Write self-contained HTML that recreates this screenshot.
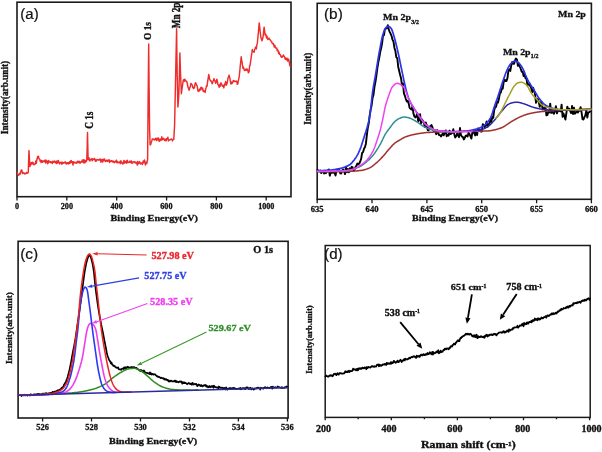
<!DOCTYPE html>
<html><head><meta charset="utf-8"><title>XPS and Raman spectra</title>
<style>html,body{margin:0;padding:0;background:#fff;}body{width:602px;height:452px;overflow:hidden;}svg{display:block;filter:blur(0.3px);}
</style></head>
<body><svg width="602" height="452" viewBox="0 0 602 452"><rect x="17" y="2.2" width="274" height="194.5" fill="none" stroke="#1a1a1a" stroke-width="1.6"/><path d="M17,196.7 V200.5 M66.8,196.7 V200.5 M116.7,196.7 V200.5 M166.6,196.7 V200.5 M216.4,196.7 V200.5 M266.2,196.7 V200.5" stroke="#1a1a1a" stroke-width="1.3" fill="none"/><path d="M17.3,172.6 L17.8,173.9 L18.3,175.2 L18.8,175.2 L19.3,174.3 L19.8,173.3 L20.3,173.9 L20.7,172.1 L21.2,170.2 L21.6,169.9 L22.1,171.1 L22.5,173.5 L23,173.2 L23.5,172.8 L24,172.7 L24.5,173.9 L25,173.5 L25.5,173.8 L26,173.5 L26.5,172.3 L27,173.2 L27.4,172.7 L27.9,173.1 L28.3,171.9 L28.6,161.2 L29,150.6 L29.4,158.6 L29.9,166.6 L30.3,164.5 L30.8,164.8 L31.2,162.6 L31.6,163.9 L32,162.7 L32.5,162.2 L33,164 L33.4,163 L33.8,164.8 L34.3,164.6 L34.8,164.4 L35.3,163.8 L35.8,161 L36.3,163.3 L36.7,160.5 L37.2,158.8 L37.6,156.6 L38,157.4 L38.5,156.3 L38.9,158.6 L39.3,159 L39.8,159.4 L40.2,161.3 L40.6,160.5 L41.1,162.5 L41.5,160.5 L42,161.4 L42.4,162.3 L42.9,160.8 L43.3,161.3 L43.8,161.6 L44.2,161.6 L44.7,160.3 L45.1,161.6 L45.6,163 L46,160 L46.5,162.5 L46.9,161.8 L47.4,161 L47.8,163.8 L48.3,162.5 L48.7,160.5 L49.2,161.9 L49.6,161.8 L50.1,162.4 L50.5,161.7 L51,162.6 L51.4,161.9 L51.9,162.7 L52.3,163.5 L52.8,161.3 L53.2,162.3 L53.7,161.6 L54.2,162.3 L54.6,160.9 L55.1,161.6 L55.5,162 L56,163.2 L56.4,163.5 L56.9,161 L57.4,161.6 L57.8,163.1 L58.3,160.4 L58.7,162 L59.2,162.4 L59.6,163.9 L60.1,163.3 L60.6,162.3 L61,162.3 L61.5,162.4 L61.9,164.3 L62.4,162.3 L62.8,162.5 L63.3,163.2 L63.7,162.7 L64.2,162.9 L64.6,162.7 L65.1,161.7 L65.5,162.9 L66,162.4 L66.4,164.1 L66.8,163.5 L67.3,162.8 L67.7,163.5 L68.2,162.4 L68.6,163.9 L69.1,162.8 L69.5,163.4 L69.9,161.4 L70.4,163.1 L70.8,160.9 L71.3,160.6 L71.7,162.4 L72.2,161.7 L72.6,162.8 L73,165 L73.5,161.8 L73.9,162 L74.4,162.8 L74.8,162.6 L75.2,163.1 L75.7,162.4 L76.1,162.3 L76.6,163.2 L77,163 L77.5,161.3 L77.9,162.3 L78.3,162.4 L78.8,161.2 L79.2,162.6 L79.7,161.4 L80.1,163.3 L80.5,162.4 L81,162.3 L81.4,161.5 L81.9,162 L82.3,160 L82.8,160.9 L83.2,162.4 L83.6,159.8 L84.1,162.9 L84.5,160.1 L85,162.7 L85.4,161.9 L85.9,160.4 L86.3,161.5 L86.8,160 L87.2,146.2 L87.5,132.5 L88.1,159.3 L88.6,159.5 L89,157.8 L89.5,160.7 L89.9,161 L90.4,159.4 L90.9,159.3 L91.3,159.4 L91.8,158.6 L92.2,160.8 L92.7,159.1 L93.2,159.7 L93.6,158.9 L94.1,159.2 L94.5,158.5 L95,159.9 L95.5,161.3 L95.9,159.8 L96.4,161 L96.8,160.1 L97.3,159.4 L97.7,159.8 L98.2,159.6 L98.6,160.2 L99.1,159.9 L99.5,160 L100,158.9 L100.5,159.5 L100.9,162.2 L101.4,159.8 L101.8,159.4 L102.3,160.9 L102.7,162.1 L103.2,159.1 L103.6,160.5 L104.1,160.1 L104.5,158.9 L105,160.8 L105.5,161.6 L105.9,160.8 L106.4,161 L106.8,160.1 L107.3,161.4 L107.7,160.4 L108.2,160.9 L108.6,159.9 L109.1,159.8 L109.5,162.5 L110,160.6 L110.5,161.5 L110.9,161.2 L111.4,160.8 L111.8,160.7 L112.3,162 L112.7,161 L113.2,161.2 L113.6,161.4 L114.1,162.7 L114.5,162.2 L115,161.5 L115.5,161.9 L115.9,161 L116.4,160.2 L116.8,162.6 L117.3,162.7 L117.7,161.6 L118.2,162.3 L118.6,162.6 L119.1,162.7 L119.5,162.8 L120,161.4 L120.5,163.5 L120.9,160.7 L121.4,162.9 L121.8,162.6 L122.3,163 L122.7,164.1 L123.2,163.7 L123.6,161 L124.1,160.5 L124.5,163.1 L125,162.3 L125.5,161.3 L125.9,162.3 L126.4,163.2 L126.8,160.7 L127.3,160.2 L127.7,162.7 L128.2,162.5 L128.6,162.2 L129.1,162.5 L129.5,161.6 L130,161 L130.5,162.4 L130.9,161.6 L131.4,160.9 L131.8,163.2 L132.3,162.6 L132.7,163.1 L133.2,161.7 L133.6,162 L134.1,161.7 L134.5,161.8 L135,162.8 L135.5,163 L135.9,162 L136.4,163.3 L136.8,163.3 L137.3,165.1 L137.7,161.5 L138.2,163.9 L138.6,163 L139.1,163.1 L139.5,161.6 L140,162.7 L140.4,163.9 L140.9,163.1 L141.4,163.3 L141.8,163 L142.3,164.5 L142.7,163.3 L143.2,161 L143.6,162.7 L144.1,161.3 L144.5,160 L145,162.9 L145.4,164.9 L145.9,163.6 L146.3,162.3 L146.8,163.6 L147.2,160.8 L147.6,160 L148.1,102 L148.7,44 L149.1,87 L149.6,130 L150.1,145 L150.6,144.9 L151.2,142.5 L151.8,140.9 L152.3,139 L152.8,139.1 L153.2,139 L153.7,139.1 L154.1,140 L154.6,139.8 L155,139.4 L155.5,138.2 L155.9,139.8 L156.4,138.6 L156.8,140.5 L157.3,138.1 L157.7,139.3 L158.2,139.5 L158.6,138.1 L159.1,141.3 L159.5,141.1 L160,139.6 L160.4,139.1 L160.9,140.4 L161.3,139.9 L161.8,136.8 L162.2,139.7 L162.6,139.4 L163.1,139.5 L163.5,138.3 L163.9,139.1 L164.4,139.2 L164.8,140.6 L165.2,139.7 L165.7,139.3 L166.1,140.9 L166.6,138.6 L167,139.2 L167.5,138.8 L167.9,137.3 L168.4,140.9 L168.8,140.2 L169.3,140.2 L169.7,139.9 L170.2,139.4 L170.6,139.5 L171.1,139 L171.5,139.1 L172,139.3 L172.4,140.9 L172.9,139.9 L173.3,139.2 L173.8,139.3 L174.2,132.2 L174.6,125 L175.1,101 L175.6,76.9 L176.1,52.8 L176.6,28.8 L176.9,54.4 L177.3,80 L177.9,107 L178.4,101 L178.8,95 L179.4,74 L179.9,53 L180.2,64 L180.6,75 L181,84.3 L181.4,93.7 L181.8,90.5 L182.2,87.3 L182.7,84.1 L183.1,80.9 L183.6,79.9 L184,79.4 L184.4,81.3 L184.9,79.2 L185.4,80.6 L185.8,80.9 L186.3,81.3 L186.7,81.3 L187.2,83.3 L187.6,85 L188.1,87.7 L188.6,88.1 L189,90.2 L189.5,88.7 L189.9,87.4 L190.4,86.5 L190.8,83.4 L191.3,83.8 L191.8,84.5 L192.2,84.8 L192.7,87.5 L193.1,86.8 L193.6,88.5 L194,87.9 L194.4,87.8 L194.9,84.7 L195.3,83.2 L195.7,82.7 L196.1,84.1 L196.6,85.2 L197,85.4 L197.5,88.2 L197.9,91 L198.4,89.9 L198.8,91.4 L199.3,90.6 L199.8,89.1 L200.2,90 L200.7,87.8 L201.2,87.3 L201.7,87.9 L202.1,89.7 L202.6,87.9 L203,90.5 L203.4,91.5 L203.8,90.7 L204.3,91.5 L204.7,91.4 L205.2,92.4 L205.6,89.1 L206.1,87.7 L206.5,85.8 L207,86.2 L207.4,83.3 L207.8,80.3 L208.3,77.4 L208.7,74.5 L209.1,76.1 L209.6,79.3 L210.1,80.3 L210.5,80.9 L210.9,80.6 L211.3,81.5 L211.8,82.5 L212.2,83.8 L212.6,82.8 L213.1,81 L213.6,80.1 L214,78.6 L214.4,80.1 L214.8,80.6 L215.3,82.1 L215.7,83.3 L216.1,82.2 L216.5,80.5 L216.9,79.2 L217.4,81.3 L217.8,84.4 L218.3,84.7 L218.7,85.7 L219.2,87.3 L219.7,84.8 L220.1,86.3 L220.6,83.2 L221,83 L221.5,83.8 L222,85.5 L222.4,86.2 L222.9,86.1 L223.3,85.3 L223.8,87.9 L224.2,85.9 L224.7,84 L225.2,83.8 L225.6,81.5 L226.1,85.3 L226.7,84.4 L227.2,82.8 L227.7,79.9 L228.1,77.6 L228.6,76.9 L229.1,75.1 L229.5,77.1 L229.9,78.2 L230.4,81.7 L230.8,83.8 L231.3,82 L231.7,83.8 L232.2,83.2 L232.6,82.6 L233.1,80.9 L233.6,80.5 L234.1,81.7 L234.5,81.1 L235,81 L235.5,81.5 L236,81.6 L236.4,81.1 L236.9,81.5 L237.3,84.3 L237.8,84 L238.2,81.3 L238.7,79.2 L239.1,77.6 L239.5,74 L239.9,69.7 L240.3,65.3 L240.8,61 L241.2,56.7 L241.6,59.6 L242.1,62.5 L242.5,65.3 L242.9,68.2 L243.4,67.1 L243.9,68.8 L244.4,70.4 L244.8,70.3 L245.2,70.3 L245.7,69.2 L246.1,70.4 L246.5,69 L246.9,69.9 L247.4,69.2 L247.8,70.2 L248.3,72.7 L248.7,72.6 L249.2,70.7 L249.6,65.8 L250.1,65.4 L250.5,62.2 L251,59 L251.4,55.9 L251.9,52.7 L252.3,49.5 L252.8,51.6 L253.2,51.6 L253.7,51.7 L254.1,52.3 L254.6,49.6 L255,48.8 L255.5,47.1 L255.9,47.4 L256.4,48.9 L256.8,44.8 L257.3,43.8 L257.6,40.2 L258,36.6 L258.4,32 L258.8,27.5 L259.2,22.9 L259.7,27 L260.1,31 L260.6,35.1 L261.1,38.7 L261.5,38.3 L262,40.9 L262.6,38.9 L263.1,36.6 L263.6,31.9 L264.1,27.2 L264.6,31.1 L265.2,35.1 L265.6,33.9 L266.1,35.9 L266.5,37.9 L267,36.1 L267.4,38 L267.9,39.5 L268.4,39.1 L268.9,38 L269.3,38.9 L269.8,39.4 L270.3,40.2 L270.7,40.9 L271.1,41.1 L271.6,41.5 L272,42.8 L272.4,43.8 L272.9,43.3 L273.4,43.6 L273.9,45.5 L274.3,47.1 L274.8,45.2 L275.3,47.4 L275.8,48 L276.3,47.9 L276.8,48.2 L277.2,50.7 L277.7,49.9 L278.2,51 L278.7,53.5 L279.1,52.1 L279.6,54.3 L280.1,54.6 L280.5,55 L281,56.7 L281.5,57.2 L282,56.3 L282.4,57 L282.9,56.2 L283.4,55 L283.9,56 L284.3,56.6 L284.8,57.5 L285.2,59.2 L285.7,57.9 L286.1,59.6 L286.6,59.8 L287.1,58.3 L287.6,61 L288,59.4 L288.5,58.9 L289,61 L289.4,62.6 L289.8,65.6 L290.2,66.1" fill="none" stroke="#ee2c2c" stroke-width="1.45" stroke-linejoin="round" stroke-linecap="round"/><rect x="317.2" y="3.3" width="274.2" height="196" fill="none" stroke="#1a1a1a" stroke-width="1.6"/><path d="M317.2,199.3 V203.3 M372,199.3 V203.3 M426.9,199.3 V203.3 M481.7,199.3 V203.3 M536.6,199.3 V203.3 M591.4,199.3 V203.3" stroke="#1a1a1a" stroke-width="1.3" fill="none"/><path d="M317.5,169.9 L318.4,170.7 L319.4,171.2 L320.3,170.6 L321.3,173.1 L322.2,171.1 L323.2,171.3 L324.1,173.5 L325.1,171.2 L326,173.2 L327,170.8 L327.9,170.4 L328.9,169.4 L329.8,175.7 L330.8,172 L331.7,172.9 L332.7,172.4 L333.6,172.7 L334.6,172.5 L335.5,175.6 L336.5,170.6 L337.4,169.7 L338.4,170.6 L339.3,170 L340.3,173.4 L341.2,173.5 L342.2,170.4 L343.1,169.6 L344.1,171.3 L345,174.1 L346,166.8 L346.9,172.2 L347.9,169.1 L348.8,172.3 L349.8,168.3 L350.7,169.2 L351.7,166.8 L352.6,167.4 L353.6,171 L354.5,169.6 L355.5,167 L356.4,165.8 L357.4,163.5 L358.3,164.4 L359.3,163.5 L360.2,161.5 L361.2,158.6 L362.1,152.9 L363.1,152.1 L364,148.7 L365,147.1 L365.9,143.7 L366.9,134.6 L367.8,127.9 L368.8,123.1 L369.7,115.4 L370.7,109.3 L371.6,105.5 L372.6,97.8 L373.5,94.7 L374.5,86.7 L375.4,82 L376.4,75.6 L377.3,68.6 L378.3,62.3 L379.2,58.1 L380.2,52 L381.1,48.5 L382.1,43.1 L383,35.6 L384,35.1 L384.9,29.2 L385.9,28.6 L386.8,28 L387.8,25.2 L388.7,29.4 L389.7,31.8 L390.6,33.7 L391.6,36.1 L392.5,39.7 L393.5,41.7 L394.4,47.7 L395.4,51.1 L396.3,57.2 L397.3,58.1 L398.2,66.7 L399.2,71 L400.1,74.7 L401.1,78.4 L402,85.5 L403,83.4 L403.9,93.1 L404.9,95.8 L405.8,98.8 L406.8,101.5 L407.7,100.7 L408.7,103.6 L409.6,107.8 L410.6,108.8 L411.5,109.6 L412.5,106.2 L413.4,113.3 L414.4,116.4 L415.3,117.4 L416.3,116.6 L417.2,113 L418.2,121.4 L419.1,119.7 L420.1,114.3 L421,123.6 L422,119.5 L422.9,121 L423.9,122.8 L424.8,127.1 L425.8,122.5 L426.7,125.2 L427.7,130.1 L428.6,130.5 L429.6,126.5 L430.5,126.9 L431.5,125 L432.4,127.2 L433.4,130.7 L434.3,131.3 L435.3,131.3 L436.2,134.2 L437.2,130.2 L438.1,132.6 L439.1,135.1 L440,135 L441,136.5 L441.9,135 L442.9,133.3 L443.8,135.3 L444.8,131.9 L445.7,130.4 L446.7,136.3 L447.6,134.7 L448.6,135.7 L449.5,130.6 L450.5,134.1 L451.4,133.5 L452.4,132.8 L453.3,129.2 L454.3,134.3 L455.2,137.5 L456.2,136.2 L457.1,133.6 L458.1,135.2 L459,137.2 L460,128 L460.9,134.9 L461.9,136.6 L462.8,136.9 L463.8,139.4 L464.7,137.9 L465.7,135.6 L466.6,135.5 L467.6,136.6 L468.5,133 L469.5,134 L470.4,136.2 L471.4,138.6 L472.3,132.7 L473.3,132.6 L474.2,132.8 L475.2,135.4 L476.1,131.5 L477.1,135.1 L478,128.4 L479,130 L479.9,129.5 L480.9,131.5 L481.8,131.5 L482.8,124.1 L483.7,124.9 L484.7,127.1 L485.6,125 L486.6,121.4 L487.5,126.9 L488.5,124.6 L489.4,123.4 L490.4,119.7 L491.3,121.9 L492.3,116.9 L493.2,117.9 L494.2,110.1 L495.1,107.2 L496.1,106.9 L497,101.8 L498,102.6 L498.9,98.8 L499.9,93.1 L500.8,92.6 L501.8,88.5 L502.7,88.7 L503.7,81.9 L504.6,79.6 L505.6,81.1 L506.5,81 L507.5,77.9 L508.4,70.9 L509.4,69.3 L510.3,70.9 L511.3,65.2 L512.2,61.9 L513.2,63.7 L514.1,63.8 L515.1,60.2 L516,58.5 L517,59.7 L517.9,65.9 L518.9,63.6 L519.8,66.5 L520.8,69 L521.7,71.8 L522.7,71.6 L523.6,76 L524.6,74.8 L525.5,78.2 L526.5,78.4 L527.4,85.5 L528.4,84.1 L529.3,83.9 L530.3,86.3 L531.2,88.1 L532.2,92 L533.1,87.8 L534.1,90.7 L535,94 L536,102.8 L536.9,100.3 L537.9,98.9 L538.8,102.2 L539.8,106.8 L540.7,102.2 L541.7,103.2 L542.6,109.4 L543.6,108 L544.5,109.6 L545.5,106.4 L546.4,115.3 L547.4,115.1 L548.3,111.6 L549.3,112.4 L550.2,103.6 L551.2,112.9 L552.1,110.4 L553.1,112.8 L554,113.8 L555,110.6 L555.9,106.2 L556.9,113.4 L557.8,109.8 L558.8,111.3 L559.7,110.4 L560.7,111.4 L561.6,104.7 L562.6,116.8 L563.5,113.5 L564.5,116.5 L565.4,119.5 L566.4,112.8 L567.3,106.6 L568.3,109.7 L569.2,108.7 L570.2,111.1 L571.1,113.1 L572.1,106 L573,114 L574,107.7 L574.9,113.8 L575.9,112.4 L576.8,111.7 L577.8,112.6 L578.7,111 L579.7,110.7 L580.6,107.1 L581.6,112.7 L582.5,119.1 L583.5,119.5 L584.4,117.2 L585.4,115.1 L586.3,110.4 L587.3,117.6 L588.2,112.4 L589.2,112.3 L590.1,111.6" fill="none" stroke="#000" stroke-width="1.9" stroke-linejoin="round" stroke-linecap="round"/><path d="M317.5,170.6 L318,170.6 L318.5,170.6 L319,170.6 L319.5,170.6 L320,170.6 L320.5,170.6 L321,170.6 L321.5,170.5 L322,170.5 L322.5,170.5 L323,170.5 L323.5,170.5 L324,170.4 L324.5,170.4 L325,170.4 L325.5,170.4 L326,170.3 L326.5,170.3 L327,170.3 L327.5,170.3 L328,170.2 L328.5,170.2 L329,170.2 L329.5,170.1 L330,170.1 L330.5,170.1 L331,170 L331.5,170 L332,169.9 L332.5,169.9 L333,169.8 L333.5,169.7 L334,169.7 L334.5,169.6 L335,169.5 L335.5,169.4 L336,169.3 L336.5,169.2 L337,169.2 L337.5,169.1 L338,168.9 L338.5,168.8 L339,168.7 L339.5,168.6 L340,168.5 L340.5,168.4 L341,168.3 L341.5,168.2 L342,168 L342.5,167.9 L343,167.7 L343.5,167.6 L344,167.4 L344.5,167.2 L345,167 L345.5,166.8 L346,166.6 L346.5,166.4 L347,166.2 L347.5,165.9 L348,165.7 L348.5,165.4 L349,165.1 L349.5,164.8 L350,164.5 L350.5,164.1 L351,163.6 L351.5,163.1 L352,162.6 L352.5,162 L353,161.4 L353.5,160.8 L354,160.2 L354.5,159.5 L355,158.8 L355.5,158.1 L356,157.4 L356.5,156.6 L357,155.7 L357.5,154.8 L358,153.8 L358.5,152.8 L359,151.7 L359.5,150.6 L360,149.4 L360.5,148.1 L361,146.8 L361.5,145.3 L362,143.8 L362.5,142.2 L363,140.6 L363.5,139 L364,137.4 L364.5,135.8 L365,134.2 L365.5,132.7 L366,131.2 L366.5,129.6 L367,127.9 L367.5,126.1 L368,124.2 L368.5,122.2 L369,119.9 L369.5,117.4 L370,114.6 L370.5,111 L371,106.5 L371.5,101.7 L372,96.9 L372.5,92.7 L373,89.3 L373.5,86.2 L374,83.4 L374.5,80.6 L375,77.9 L375.5,75 L376,72 L376.5,68.9 L377,65.7 L377.5,62.6 L378,59.5 L378.5,56.5 L379,53.7 L379.5,51 L380,48.3 L380.5,45.6 L381,43 L381.5,40.5 L382,38.1 L382.5,36 L383,34.2 L383.5,32.7 L384,31.4 L384.5,30.1 L385,29 L385.5,28.2 L386,27.6 L386.5,27.2 L387,26.9 L387.5,26.6 L388,26.4 L388.5,26.4 L389,26.5 L389.5,26.8 L390,27.2 L390.5,27.7 L391,28.2 L391.5,28.9 L392,30.1 L392.5,31.4 L393,33 L393.5,34.6 L394,36.3 L394.5,37.9 L395,39.7 L395.5,41.7 L396,43.7 L396.5,45.8 L397,47.9 L397.5,50.1 L398,52.3 L398.5,54.5 L399,56.8 L399.5,59.2 L400,61.6 L400.5,64.1 L401,66.5 L401.5,68.9 L402,71.3 L402.5,73.7 L403,76 L403.5,78.4 L404,80.7 L404.5,83 L405,85.3 L405.5,87.5 L406,89.5 L406.5,91.4 L407,93.2 L407.5,94.9 L408,96.5 L408.5,98 L409,99.3 L409.5,100.4 L410,101.5 L410.5,102.6 L411,103.5 L411.5,104.4 L412,105.3 L412.5,106.2 L413,107 L413.5,107.8 L414,108.5 L414.5,109.3 L415,110 L415.5,110.7 L416,111.4 L416.5,112.2 L417,112.9 L417.5,113.6 L418,114.3 L418.5,115.1 L419,115.8 L419.5,116.6 L420,117.3 L420.5,118 L421,118.7 L421.5,119.5 L422,120.1 L422.5,120.8 L423,121.5 L423.5,122.1 L424,122.7 L424.5,123.3 L425,123.8 L425.5,124.3 L426,124.7 L426.5,125.1 L427,125.5 L427.5,125.9 L428,126.2 L428.5,126.6 L429,126.9 L429.5,127.2 L430,127.6 L430.5,127.9 L431,128.2 L431.5,128.5 L432,128.8 L432.5,129 L433,129.3 L433.5,129.5 L434,129.7 L434.5,129.9 L435,130.1 L435.5,130.2 L436,130.4 L436.5,130.5 L437,130.6 L437.5,130.6 L438,130.7 L438.5,130.8 L439,130.8 L439.5,130.9 L440,130.9 L440.5,131 L441,131 L441.5,131.1 L442,131.1 L442.5,131.2 L443,131.2 L443.5,131.3 L444,131.3 L444.5,131.4 L445,131.4 L445.5,131.4 L446,131.5 L446.5,131.5 L447,131.5 L447.5,131.5 L448,131.6 L448.5,131.6 L449,131.6 L449.5,131.6 L450,131.7 L450.5,131.7 L451,131.7 L451.5,131.7 L452,131.7 L452.5,131.7 L453,131.7 L453.5,131.7 L454,131.7 L454.5,131.7 L455,131.7 L455.5,131.7 L456,131.7 L456.5,131.6 L457,131.6 L457.5,131.6 L458,131.6 L458.5,131.6 L459,131.5 L459.5,131.5 L460,131.5 L460.5,131.4 L461,131.4 L461.5,131.4 L462,131.3 L462.5,131.3 L463,131.3 L463.5,131.2 L464,131.2 L464.5,131.2 L465,131.1 L465.5,131.1 L466,131 L466.5,131 L467,130.9 L467.5,130.9 L468,130.8 L468.5,130.8 L469,130.7 L469.5,130.6 L470,130.5 L470.5,130.4 L471,130.4 L471.5,130.3 L472,130.2 L472.5,130 L473,129.9 L473.5,129.8 L474,129.7 L474.5,129.6 L475,129.4 L475.5,129.3 L476,129.2 L476.5,129 L477,128.9 L477.5,128.7 L478,128.6 L478.5,128.4 L479,128.2 L479.5,128 L480,127.8 L480.5,127.6 L481,127.3 L481.5,127.1 L482,126.8 L482.5,126.5 L483,126.2 L483.5,125.9 L484,125.5 L484.5,125.2 L485,124.8 L485.5,124.4 L486,123.9 L486.5,123.4 L487,122.9 L487.5,122.3 L488,121.7 L488.5,121 L489,120.3 L489.5,119.5 L490,118.7 L490.5,117.9 L491,116.9 L491.5,115.7 L492,114.3 L492.5,112.8 L493,111.1 L493.5,109.5 L494,107.8 L494.5,106.3 L495,104.8 L495.5,103.4 L496,102 L496.5,100.6 L497,99.2 L497.5,97.7 L498,96.3 L498.5,94.8 L499,93.3 L499.5,91.7 L500,90.1 L500.5,88.5 L501,86.9 L501.5,85.3 L502,83.8 L502.5,82.3 L503,80.9 L503.5,79.4 L504,78 L504.5,76.6 L505,75.2 L505.5,73.8 L506,72.5 L506.5,71.3 L507,70.1 L507.5,69.1 L508,68.1 L508.5,67.2 L509,66.3 L509.5,65.5 L510,64.7 L510.5,64 L511,63.5 L511.5,63 L512,62.6 L512.5,62.2 L513,61.9 L513.5,61.5 L514,61.3 L514.5,61.1 L515,61 L515.5,61 L516,61.2 L516.5,61.4 L517,61.7 L517.5,62 L518,62.4 L518.5,62.8 L519,63.2 L519.5,63.7 L520,64.3 L520.5,65 L521,65.7 L521.5,66.5 L522,67.3 L522.5,68.1 L523,69 L523.5,70.1 L524,71.2 L524.5,72.4 L525,73.7 L525.5,75 L526,76.2 L526.5,77.4 L527,78.5 L527.5,79.5 L528,80.4 L528.5,81.3 L529,82.2 L529.5,83 L530,83.8 L530.5,84.6 L531,85.4 L531.5,86.2 L532,87 L532.5,87.8 L533,88.5 L533.5,89.3 L534,90.1 L534.5,90.9 L535,91.8 L535.5,92.6 L536,93.4 L536.5,94.3 L537,95.1 L537.5,95.9 L538,96.7 L538.5,97.4 L539,98.2 L539.5,98.9 L540,99.5 L540.5,100.1 L541,100.7 L541.5,101.4 L542,101.9 L542.5,102.5 L543,103 L543.5,103.6 L544,104 L544.5,104.4 L545,104.8 L545.5,105.1 L546,105.5 L546.5,105.8 L547,106.1 L547.5,106.4 L548,106.6 L548.5,106.9 L549,107.1 L549.5,107.4 L550,107.6 L550.5,107.8 L551,107.9 L551.5,108.1 L552,108.2 L552.5,108.3 L553,108.4 L553.5,108.5 L554,108.7 L554.5,108.8 L555,108.9 L555.5,109 L556,109.1 L556.5,109.2 L557,109.2 L557.5,109.3 L558,109.4 L558.5,109.5 L559,109.5 L559.5,109.6 L560,109.6 L560.5,109.7 L561,109.7 L561.5,109.8 L562,109.8 L562.5,109.8 L563,109.8 L563.5,109.8 L564,109.8 L564.5,109.8 L565,109.8 L565.5,109.8 L566,109.8 L566.5,109.8 L567,109.8 L567.5,109.8 L568,109.8 L568.5,109.8 L569,109.8 L569.5,109.8 L570,109.8 L570.5,109.8 L571,109.8 L571.5,109.8 L572,109.8 L572.5,109.8 L573,109.8 L573.5,109.8 L574,109.8 L574.5,109.8 L575,109.8 L575.5,109.8 L576,109.8 L576.5,109.8 L577,109.8 L577.5,109.8 L578,109.8 L578.5,109.8 L579,109.8 L579.5,109.7 L580,109.7 L580.5,109.7 L581,109.7 L581.5,109.7 L582,109.7 L582.5,109.6 L583,109.6 L583.5,109.6 L584,109.6 L584.5,109.6 L585,109.5 L585.5,109.5 L586,109.5 L586.5,109.5 L587,109.4 L587.5,109.4 L588,109.4 L588.5,109.3 L589,109.3 L589.5,109.3 L590,109.3 L590.5,109.2 L591,109.2" fill="none" stroke="#2c34e8" stroke-width="1.7" stroke-linejoin="round" stroke-linecap="round"/><path d="M317.5,171.8 L318,171.8 L318.5,171.8 L319,171.8 L319.5,171.8 L320,171.8 L320.5,171.8 L321,171.8 L321.5,171.8 L322,171.8 L322.5,171.8 L323,171.8 L323.5,171.8 L324,171.8 L324.5,171.8 L325,171.8 L325.5,171.8 L326,171.8 L326.5,171.8 L327,171.8 L327.5,171.8 L328,171.8 L328.5,171.8 L329,171.8 L329.5,171.8 L330,171.8 L330.5,171.8 L331,171.8 L331.5,171.8 L332,171.8 L332.5,171.8 L333,171.8 L333.5,171.7 L334,171.7 L334.5,171.7 L335,171.7 L335.5,171.7 L336,171.7 L336.5,171.7 L337,171.7 L337.5,171.7 L338,171.7 L338.5,171.7 L339,171.7 L339.5,171.7 L340,171.7 L340.5,171.7 L341,171.7 L341.5,171.7 L342,171.7 L342.5,171.7 L343,171.7 L343.5,171.6 L344,171.6 L344.5,171.6 L345,171.6 L345.5,171.6 L346,171.6 L346.5,171.5 L347,171.5 L347.5,171.5 L348,171.5 L348.5,171.5 L349,171.4 L349.5,171.4 L350,171.4 L350.5,171.4 L351,171.3 L351.5,171.3 L352,171.3 L352.5,171.2 L353,171.2 L353.5,171.2 L354,171.1 L354.5,171.1 L355,171 L355.5,171 L356,171 L356.5,170.9 L357,170.9 L357.5,170.8 L358,170.8 L358.5,170.7 L359,170.7 L359.5,170.6 L360,170.6 L360.5,170.5 L361,170.5 L361.5,170.4 L362,170.3 L362.5,170.2 L363,170.1 L363.5,170 L364,169.9 L364.5,169.7 L365,169.6 L365.5,169.4 L366,169.3 L366.5,169.1 L367,168.9 L367.5,168.7 L368,168.5 L368.5,168.4 L369,168.2 L369.5,167.9 L370,167.7 L370.5,167.4 L371,167.1 L371.5,166.8 L372,166.4 L372.5,166.1 L373,165.7 L373.5,165.3 L374,164.9 L374.5,164.5 L375,164 L375.5,163.6 L376,163.2 L376.5,162.8 L377,162.4 L377.5,161.9 L378,161.5 L378.5,161 L379,160.5 L379.5,160 L380,159.5 L380.5,159 L381,158.5 L381.5,157.9 L382,157.4 L382.5,156.9 L383,156.3 L383.5,155.8 L384,155.2 L384.5,154.6 L385,154 L385.5,153.4 L386,152.8 L386.5,152.1 L387,151.5 L387.5,150.9 L388,150.3 L388.5,149.7 L389,149.2 L389.5,148.6 L390,148.1 L390.5,147.5 L391,147 L391.5,146.4 L392,145.9 L392.5,145.3 L393,144.8 L393.5,144.3 L394,143.9 L394.5,143.4 L395,143 L395.5,142.6 L396,142.3 L396.5,141.9 L397,141.6 L397.5,141.3 L398,141 L398.5,140.8 L399,140.5 L399.5,140.2 L400,139.9 L400.5,139.6 L401,139.3 L401.5,139 L402,138.6 L402.5,138.3 L403,138.1 L403.5,137.8 L404,137.5 L404.5,137.3 L405,137.1 L405.5,136.9 L406,136.7 L406.5,136.5 L407,136.4 L407.5,136.2 L408,136 L408.5,135.9 L409,135.7 L409.5,135.5 L410,135.4 L410.5,135.3 L411,135.1 L411.5,135 L412,134.9 L412.5,134.8 L413,134.7 L413.5,134.6 L414,134.5 L414.5,134.4 L415,134.3 L415.5,134.2 L416,134.1 L416.5,134 L417,133.9 L417.5,133.8 L418,133.7 L418.5,133.6 L419,133.5 L419.5,133.5 L420,133.4 L420.5,133.3 L421,133.2 L421.5,133.2 L422,133.1 L422.5,133 L423,133 L423.5,132.9 L424,132.8 L424.5,132.8 L425,132.7 L425.5,132.7 L426,132.6 L426.5,132.6 L427,132.6 L427.5,132.5 L428,132.5 L428.5,132.5 L429,132.4 L429.5,132.4 L430,132.4 L430.5,132.3 L431,132.3 L431.5,132.3 L432,132.2 L432.5,132.2 L433,132.2 L433.5,132.1 L434,132.1 L434.5,132.1 L435,132.1 L435.5,132.1 L436,132 L436.5,132 L437,132 L437.5,132 L438,132 L438.5,131.9 L439,131.9 L439.5,131.9 L440,131.9 L440.5,131.9 L441,131.9 L441.5,131.9 L442,131.9 L442.5,131.8 L443,131.8 L443.5,131.8 L444,131.8 L444.5,131.8 L445,131.8 L445.5,131.8 L446,131.8 L446.5,131.8 L447,131.8 L447.5,131.8 L448,131.8 L448.5,131.8 L449,131.7 L449.5,131.7 L450,131.7 L450.5,131.7 L451,131.7 L451.5,131.7 L452,131.7 L452.5,131.7 L453,131.7 L453.5,131.7 L454,131.7 L454.5,131.7 L455,131.7 L455.5,131.7 L456,131.7 L456.5,131.7 L457,131.6 L457.5,131.6 L458,131.6 L458.5,131.6 L459,131.6 L459.5,131.6 L460,131.6 L460.5,131.6 L461,131.6 L461.5,131.6 L462,131.6 L462.5,131.6 L463,131.5 L463.5,131.5 L464,131.5 L464.5,131.5 L465,131.5 L465.5,131.5 L466,131.5 L466.5,131.5 L467,131.5 L467.5,131.5 L468,131.5 L468.5,131.5 L469,131.4 L469.5,131.4 L470,131.4 L470.5,131.4 L471,131.4 L471.5,131.4 L472,131.4 L472.5,131.4 L473,131.4 L473.5,131.4 L474,131.3 L474.5,131.3 L475,131.3 L475.5,131.3 L476,131.3 L476.5,131.3 L477,131.3 L477.5,131.3 L478,131.3 L478.5,131.2 L479,131.2 L479.5,131.2 L480,131.2 L480.5,131.2 L481,131.2 L481.5,131.2 L482,131.1 L482.5,131.1 L483,131.1 L483.5,131.1 L484,131.1 L484.5,131.1 L485,131.1 L485.5,131 L486,131 L486.5,131 L487,131 L487.5,130.9 L488,130.9 L488.5,130.9 L489,130.8 L489.5,130.8 L490,130.7 L490.5,130.7 L491,130.6 L491.5,130.5 L492,130.4 L492.5,130.3 L493,130.2 L493.5,130.1 L494,130 L494.5,129.9 L495,129.8 L495.5,129.7 L496,129.5 L496.5,129.4 L497,129.2 L497.5,129.1 L498,128.9 L498.5,128.8 L499,128.6 L499.5,128.5 L500,128.3 L500.5,128.2 L501,128 L501.5,127.8 L502,127.6 L502.5,127.3 L503,127.1 L503.5,126.8 L504,126.5 L504.5,126.2 L505,125.9 L505.5,125.6 L506,125.2 L506.5,124.9 L507,124.6 L507.5,124.2 L508,123.9 L508.5,123.5 L509,123.2 L509.5,122.8 L510,122.5 L510.5,122.2 L511,121.9 L511.5,121.5 L512,121.2 L512.5,121 L513,120.7 L513.5,120.4 L514,120.1 L514.5,119.8 L515,119.5 L515.5,119.3 L516,119 L516.5,118.7 L517,118.4 L517.5,118.2 L518,117.9 L518.5,117.7 L519,117.4 L519.5,117.2 L520,116.9 L520.5,116.7 L521,116.5 L521.5,116.3 L522,116.1 L522.5,115.9 L523,115.7 L523.5,115.5 L524,115.3 L524.5,115.1 L525,115 L525.5,114.8 L526,114.6 L526.5,114.5 L527,114.3 L527.5,114.2 L528,114 L528.5,113.9 L529,113.7 L529.5,113.6 L530,113.5 L530.5,113.4 L531,113.3 L531.5,113.2 L532,113.1 L532.5,113 L533,112.9 L533.5,112.8 L534,112.7 L534.5,112.6 L535,112.5 L535.5,112.4 L536,112.3 L536.5,112.2 L537,112.2 L537.5,112.1 L538,112 L538.5,112 L539,111.9 L539.5,111.8 L540,111.8 L540.5,111.7 L541,111.7 L541.5,111.6 L542,111.6 L542.5,111.5 L543,111.5 L543.5,111.4 L544,111.4 L544.5,111.3 L545,111.3 L545.5,111.2 L546,111.2 L546.5,111.2 L547,111.1 L547.5,111.1 L548,111 L548.5,111 L549,111 L549.5,110.9 L550,110.9 L550.5,110.9 L551,110.8 L551.5,110.8 L552,110.8 L552.5,110.7 L553,110.7 L553.5,110.7 L554,110.6 L554.5,110.6 L555,110.6 L555.5,110.6 L556,110.5 L556.5,110.5 L557,110.5 L557.5,110.4 L558,110.4 L558.5,110.4 L559,110.4 L559.5,110.4 L560,110.3 L560.5,110.3 L561,110.3 L561.5,110.3 L562,110.2 L562.5,110.2 L563,110.2 L563.5,110.2 L564,110.2 L564.5,110.2 L565,110.1 L565.5,110.1 L566,110.1 L566.5,110.1 L567,110.1 L567.5,110 L568,110 L568.5,110 L569,110 L569.5,110 L570,110 L570.5,109.9 L571,109.9 L571.5,109.9 L572,109.9 L572.5,109.9 L573,109.8 L573.5,109.8 L574,109.8 L574.5,109.8 L575,109.8 L575.5,109.7 L576,109.7 L576.5,109.7 L577,109.7 L577.5,109.7 L578,109.6 L578.5,109.6 L579,109.6 L579.5,109.6 L580,109.6 L580.5,109.5 L581,109.5 L581.5,109.5 L582,109.5 L582.5,109.5 L583,109.4 L583.5,109.4 L584,109.4 L584.5,109.4 L585,109.3 L585.5,109.3 L586,109.3 L586.5,109.3 L587,109.3 L587.5,109.2 L588,109.2 L588.5,109.2 L589,109.2 L589.5,109.2 L590,109.1 L590.5,109.1 L591,109.1" fill="none" stroke="#a0302f" stroke-width="1.5" stroke-linejoin="round" stroke-linecap="round"/><path d="M317.5,171.4 L318,171.4 L318.5,171.4 L319,171.4 L319.5,171.4 L320,171.4 L320.5,171.4 L321,171.4 L321.5,171.4 L322,171.4 L322.5,171.4 L323,171.4 L323.5,171.4 L324,171.4 L324.5,171.4 L325,171.4 L325.5,171.4 L326,171.4 L326.5,171.4 L327,171.4 L327.5,171.4 L328,171.4 L328.5,171.4 L329,171.4 L329.5,171.3 L330,171.3 L330.5,171.3 L331,171.3 L331.5,171.3 L332,171.3 L332.5,171.3 L333,171.3 L333.5,171.3 L334,171.3 L334.5,171.3 L335,171.3 L335.5,171.3 L336,171.3 L336.5,171.3 L337,171.3 L337.5,171.2 L338,171.2 L338.5,171.2 L339,171.2 L339.5,171.2 L340,171.2 L340.5,171.2 L341,171.2 L341.5,171.2 L342,171.2 L342.5,171.2 L343,171.1 L343.5,171.1 L344,171.1 L344.5,171.1 L345,171.1 L345.5,171.1 L346,171 L346.5,171 L347,170.9 L347.5,170.9 L348,170.8 L348.5,170.7 L349,170.6 L349.5,170.5 L350,170.4 L350.5,170.2 L351,170.1 L351.5,169.9 L352,169.8 L352.5,169.6 L353,169.4 L353.5,169.2 L354,169.1 L354.5,168.9 L355,168.7 L355.5,168.5 L356,168.3 L356.5,168 L357,167.8 L357.5,167.6 L358,167.4 L358.5,167.2 L359,167 L359.5,166.7 L360,166.5 L360.5,166.3 L361,166 L361.5,165.7 L362,165.4 L362.5,165 L363,164.7 L363.5,164.3 L364,163.9 L364.5,163.5 L365,163.1 L365.5,162.7 L366,162.3 L366.5,161.9 L367,161.4 L367.5,161 L368,160.5 L368.5,160.1 L369,159.6 L369.5,159.1 L370,158.6 L370.5,158.1 L371,157.5 L371.5,157 L372,156.4 L372.5,155.9 L373,155.3 L373.5,154.7 L374,154 L374.5,153.4 L375,152.7 L375.5,152 L376,151.2 L376.5,150.5 L377,149.7 L377.5,148.9 L378,148.1 L378.5,147.3 L379,146.4 L379.5,145.6 L380,144.7 L380.5,143.8 L381,142.9 L381.5,141.8 L382,140.8 L382.5,139.8 L383,138.7 L383.5,137.7 L384,136.6 L384.5,135.7 L385,134.7 L385.5,133.9 L386,133.1 L386.5,132.4 L387,131.6 L387.5,131 L388,130.3 L388.5,129.6 L389,129 L389.5,128.3 L390,127.7 L390.5,127 L391,126.3 L391.5,125.6 L392,124.9 L392.5,124.2 L393,123.6 L393.5,123 L394,122.4 L394.5,121.8 L395,121.4 L395.5,121 L396,120.6 L396.5,120.2 L397,119.8 L397.5,119.5 L398,119.2 L398.5,118.9 L399,118.6 L399.5,118.4 L400,118.2 L400.5,118 L401,117.8 L401.5,117.6 L402,117.5 L402.5,117.3 L403,117.2 L403.5,117.1 L404,117.1 L404.5,117.1 L405,117.1 L405.5,117.2 L406,117.3 L406.5,117.3 L407,117.4 L407.5,117.5 L408,117.6 L408.5,117.7 L409,117.8 L409.5,118 L410,118.2 L410.5,118.4 L411,118.6 L411.5,118.8 L412,119.1 L412.5,119.3 L413,119.6 L413.5,119.9 L414,120.2 L414.5,120.5 L415,120.7 L415.5,121 L416,121.3 L416.5,121.6 L417,121.9 L417.5,122.2 L418,122.6 L418.5,122.9 L419,123.3 L419.5,123.6 L420,124 L420.5,124.4 L421,124.7 L421.5,125.1 L422,125.4 L422.5,125.8 L423,126.1 L423.5,126.4 L424,126.7 L424.5,126.9 L425,127.2 L425.5,127.4 L426,127.7 L426.5,127.9 L427,128.2 L427.5,128.4 L428,128.6 L428.5,128.8 L429,129 L429.5,129.2 L430,129.3 L430.5,129.4 L431,129.6 L431.5,129.7 L432,129.8 L432.5,130 L433,130.1 L433.5,130.2 L434,130.3 L434.5,130.4 L435,130.5 L435.5,130.6 L436,130.7 L436.5,130.8 L437,130.9 L437.5,130.9 L438,131 L438.5,131.1 L439,131.1 L439.5,131.2 L440,131.2 L440.5,131.2 L441,131.3 L441.5,131.3 L442,131.3 L442.5,131.4 L443,131.4 L443.5,131.4 L444,131.5 L444.5,131.5 L445,131.5 L445.5,131.5 L446,131.6 L446.5,131.6 L447,131.6 L447.5,131.6 L448,131.7 L448.5,131.7 L449,131.7 L449.5,131.7 L450,131.7 L450.5,131.7 L451,131.7 L451.5,131.8 L452,131.8 L452.5,131.8 L453,131.8 L453.5,131.8 L454,131.8 L454.5,131.8 L455,131.8" fill="none" stroke="#2f9090" stroke-width="1.5" stroke-linejoin="round" stroke-linecap="round"/><path d="M317.5,171.3 L318,171.3 L318.5,171.3 L319,171.3 L319.5,171.3 L320,171.3 L320.5,171.3 L321,171.3 L321.5,171.3 L322,171.3 L322.5,171.3 L323,171.3 L323.5,171.3 L324,171.3 L324.5,171.3 L325,171.3 L325.5,171.3 L326,171.3 L326.5,171.3 L327,171.2 L327.5,171.2 L328,171.2 L328.5,171.2 L329,171.2 L329.5,171.2 L330,171.2 L330.5,171.2 L331,171.2 L331.5,171.2 L332,171.2 L332.5,171.2 L333,171.2 L333.5,171.1 L334,171.1 L334.5,171.1 L335,171.1 L335.5,171.1 L336,171.1 L336.5,171.1 L337,171.1 L337.5,171.1 L338,171.1 L338.5,171 L339,171 L339.5,171 L340,171 L340.5,171 L341,171 L341.5,170.9 L342,170.9 L342.5,170.9 L343,170.8 L343.5,170.8 L344,170.7 L344.5,170.7 L345,170.6 L345.5,170.6 L346,170.5 L346.5,170.5 L347,170.4 L347.5,170.3 L348,170.2 L348.5,170.2 L349,170.1 L349.5,170 L350,169.9 L350.5,169.8 L351,169.7 L351.5,169.6 L352,169.5 L352.5,169.4 L353,169.2 L353.5,169.1 L354,168.9 L354.5,168.7 L355,168.5 L355.5,168.2 L356,168 L356.5,167.7 L357,167.4 L357.5,167.2 L358,166.9 L358.5,166.5 L359,166.2 L359.5,165.9 L360,165.6 L360.5,165.3 L361,165 L361.5,164.6 L362,164.3 L362.5,164 L363,163.6 L363.5,163.2 L364,162.8 L364.5,162.4 L365,161.9 L365.5,161.5 L366,161 L366.5,160.5 L367,160 L367.5,159.4 L368,158.8 L368.5,158.2 L369,157.6 L369.5,156.9 L370,156.2 L370.5,155.4 L371,154.6 L371.5,153.8 L372,152.9 L372.5,152 L373,151.1 L373.5,150.1 L374,149 L374.5,147.7 L375,146.4 L375.5,145 L376,143.5 L376.5,142 L377,140.4 L377.5,138.9 L378,137.4 L378.5,135.9 L379,134.3 L379.5,132.7 L380,131 L380.5,129.1 L381,127.1 L381.5,124.9 L382,122.7 L382.5,120.4 L383,118 L383.5,115.4 L384,112.8 L384.5,110.2 L385,107.8 L385.5,105.8 L386,104 L386.5,102.3 L387,100.7 L387.5,99.1 L388,97.7 L388.5,96.3 L389,94.9 L389.5,93.5 L390,92.1 L390.5,90.8 L391,89.5 L391.5,88.4 L392,87.4 L392.5,86.7 L393,86.2 L393.5,85.6 L394,85.1 L394.5,84.6 L395,84.2 L395.5,83.9 L396,83.6 L396.5,83.4 L397,83.3 L397.5,83.3 L398,83.4 L398.5,83.5 L399,83.7 L399.5,83.9 L400,84.2 L400.5,84.5 L401,84.8 L401.5,85.2 L402,85.6 L402.5,86 L403,86.4 L403.5,86.9 L404,87.6 L404.5,88.5 L405,89.5 L405.5,90.6 L406,91.9 L406.5,93.2 L407,94.5 L407.5,95.8 L408,97.1 L408.5,98.3 L409,99.4 L409.5,100.4 L410,101.3 L410.5,102.2 L411,103.1 L411.5,104 L412,104.9 L412.5,105.8 L413,106.6 L413.5,107.4 L414,108.2 L414.5,109 L415,109.8 L415.5,110.6 L416,111.4 L416.5,112.1 L417,112.9 L417.5,113.6 L418,114.3 L418.5,115.1 L419,115.8 L419.5,116.6 L420,117.3 L420.5,118 L421,118.7 L421.5,119.5 L422,120.1 L422.5,120.8 L423,121.5 L423.5,122.1 L424,122.7 L424.5,123.3 L425,123.8 L425.5,124.3 L426,124.7 L426.5,125.1 L427,125.5 L427.5,125.9 L428,126.2 L428.5,126.6 L429,126.9 L429.5,127.2 L430,127.6 L430.5,127.9 L431,128.2 L431.5,128.5 L432,128.7 L432.5,129 L433,129.2 L433.5,129.5 L434,129.7 L434.5,129.9 L435,130.1 L435.5,130.2 L436,130.4 L436.5,130.5 L437,130.6 L437.5,130.6 L438,130.7 L438.5,130.8 L439,130.9 L439.5,130.9 L440,131 L440.5,131 L441,131.1 L441.5,131.2 L442,131.2 L442.5,131.3 L443,131.3 L443.5,131.4 L444,131.4 L444.5,131.5 L445,131.5 L445.5,131.6 L446,131.6 L446.5,131.6 L447,131.7 L447.5,131.7 L448,131.7 L448.5,131.8 L449,131.8 L449.5,131.8 L450,131.8 L450.5,131.9 L451,131.9 L451.5,131.9 L452,131.9 L452.5,131.9 L453,131.9 L453.5,131.9 L454,131.9 L454.5,131.9 L455,131.9 L455.5,131.9 L456,131.9 L456.5,131.9 L457,131.8 L457.5,131.8 L458,131.8 L458.5,131.8 L459,131.8 L459.5,131.8 L460,131.7 L460.5,131.7 L461,131.7 L461.5,131.7 L462,131.7 L462.5,131.6 L463,131.6 L463.5,131.6 L464,131.6 L464.5,131.6 L465,131.5 L465.5,131.5 L466,131.5 L466.5,131.5 L467,131.5 L467.5,131.5 L468,131.5 L468.5,131.4 L469,131.4 L469.5,131.4 L470,131.4 L470.5,131.4 L471,131.4 L471.5,131.4 L472,131.3 L472.5,131.3 L473,131.3 L473.5,131.3 L474,131.3 L474.5,131.3 L475,131.3 L475.5,131.3 L476,131.2 L476.5,131.2 L477,131.2 L477.5,131.2 L478,131.2" fill="none" stroke="#f040f0" stroke-width="1.5" stroke-linejoin="round" stroke-linecap="round"/><path d="M473.2,131 L473.7,131 L474.2,131 L474.7,130.9 L475.2,130.9 L475.7,130.8 L476.2,130.8 L476.7,130.7 L477.2,130.6 L477.7,130.5 L478.2,130.4 L478.7,130.3 L479.2,130.2 L479.7,130.1 L480.2,129.9 L480.7,129.8 L481.2,129.7 L481.7,129.5 L482.2,129.4 L482.7,129.3 L483.2,129.1 L483.7,128.9 L484.2,128.7 L484.7,128.4 L485.2,128.2 L485.7,127.9 L486.2,127.6 L486.7,127.4 L487.2,127 L487.7,126.7 L488.2,126.4 L488.7,126 L489.2,125.6 L489.7,125.2 L490.2,124.7 L490.7,124.3 L491.2,123.7 L491.7,123.2 L492.2,122.6 L492.7,122.1 L493.2,121.5 L493.7,121 L494.2,120.4 L494.7,119.9 L495.2,119.3 L495.7,118.7 L496.2,118.1 L496.7,117.4 L497.2,116.8 L497.7,116.2 L498.2,115.5 L498.7,114.9 L499.2,114.2 L499.7,113.6 L500.2,113 L500.7,112.3 L501.2,111.7 L501.7,111.1 L502.2,110.6 L502.7,110 L503.2,109.4 L503.7,108.8 L504.2,108.2 L504.7,107.6 L505.2,107 L505.7,106.5 L506.2,106 L506.7,105.5 L507.2,105.1 L507.7,104.7 L508.2,104.4 L508.7,104.1 L509.2,103.9 L509.7,103.6 L510.2,103.4 L510.7,103.2 L511.2,103 L511.7,102.9 L512.2,102.8 L512.7,102.7 L513.2,102.6 L513.7,102.5 L514.2,102.4 L514.7,102.3 L515.2,102.3 L515.7,102.2 L516.2,102.2 L516.7,102.2 L517.2,102.2 L517.7,102.3 L518.2,102.3 L518.7,102.4 L519.2,102.5 L519.7,102.6 L520.2,102.7 L520.7,102.8 L521.2,103 L521.7,103.1 L522.2,103.3 L522.7,103.4 L523.2,103.6 L523.7,103.7 L524.2,103.9 L524.7,104 L525.2,104.2 L525.7,104.4 L526.2,104.6 L526.7,104.8 L527.2,105 L527.7,105.2 L528.2,105.4 L528.7,105.6 L529.2,105.8 L529.7,106 L530.2,106.2 L530.7,106.4 L531.2,106.6 L531.7,106.8 L532.2,106.9 L532.7,107.1 L533.2,107.2 L533.7,107.4 L534.2,107.5 L534.7,107.7 L535.2,107.8 L535.7,108 L536.2,108.1 L536.7,108.2 L537.2,108.3 L537.7,108.4 L538.2,108.5 L538.7,108.6 L539.2,108.8 L539.7,108.9 L540.2,109 L540.7,109.1 L541.2,109.2 L541.7,109.3 L542.2,109.4 L542.7,109.5 L543.2,109.5 L543.7,109.6 L544.2,109.7 L544.7,109.7 L545.2,109.8 L545.7,109.8 L546.2,109.8 L546.7,109.8 L547.2,109.8 L547.7,109.8 L548.2,109.9 L548.7,109.9 L549.2,109.9 L549.7,109.9 L550.2,109.9 L550.7,109.9 L551.2,109.9 L551.7,109.9 L552.2,109.9 L552.7,109.9 L553.2,110 L553.7,110 L554.2,110 L554.7,110 L555.2,110 L555.7,110 L556.2,110 L556.7,110 L557.2,110 L557.7,110 L558.2,110 L558.7,110 L559.2,110 L559.7,110 L560.2,110 L560.7,110 L561.2,110 L561.7,110 L562.2,110 L562.7,110 L563.2,110 L563.7,110 L564.2,110 L564.7,110 L565.2,110 L565.7,110 L566.2,110 L566.7,109.9 L567.2,109.9 L567.7,109.9 L568.2,109.9 L568.7,109.9 L569.2,109.9 L569.7,109.9 L570.2,109.9 L570.7,109.9 L571.2,109.9 L571.7,109.9 L572.2,109.9 L572.7,109.8 L573.2,109.8 L573.7,109.8 L574.2,109.8 L574.7,109.8 L575.2,109.8 L575.7,109.8 L576.2,109.8 L576.7,109.8 L577.2,109.8 L577.7,109.7 L578.2,109.7 L578.7,109.7 L579.2,109.7 L579.7,109.7 L580.2,109.7 L580.7,109.6 L581.2,109.6 L581.7,109.6 L582.2,109.6 L582.7,109.6 L583.2,109.6 L583.7,109.5 L584.2,109.5 L584.7,109.5 L585.2,109.5 L585.7,109.4 L586.2,109.4 L586.7,109.4 L587.2,109.4 L587.7,109.4 L588.2,109.3 L588.7,109.3 L589.2,109.3 L589.7,109.3 L590.2,109.2 L590.7,109.2 L591,109.2" fill="none" stroke="#2a2aa8" stroke-width="1.5" stroke-linejoin="round" stroke-linecap="round"/><path d="M496,118.2 L496.5,117.7 L497,117.2 L497.5,116.7 L498,116.1 L498.5,115.4 L499,114.8 L499.5,114 L500,113.3 L500.5,112.5 L501,111.6 L501.5,110.6 L502,109.6 L502.5,108.6 L503,107.5 L503.5,106.5 L504,105.5 L504.5,104.5 L505,103.5 L505.5,102.5 L506,101.5 L506.5,100.4 L507,99.4 L507.5,98.4 L508,97.4 L508.5,96.4 L509,95.5 L509.5,94.5 L510,93.6 L510.5,92.6 L511,91.6 L511.5,90.6 L512,89.6 L512.5,88.7 L513,87.9 L513.5,87.1 L514,86.3 L514.5,85.7 L515,85.2 L515.5,84.6 L516,84.1 L516.5,83.7 L517,83.3 L517.5,83 L518,82.8 L518.5,82.7 L519,82.5 L519.5,82.4 L520,82.3 L520.5,82.2 L521,82.2 L521.5,82.2 L522,82.3 L522.5,82.4 L523,82.6 L523.5,82.9 L524,83.1 L524.5,83.5 L525,83.8 L525.5,84.1 L526,84.5 L526.5,84.9 L527,85.5 L527.5,86.3 L528,87.1 L528.5,88 L529,88.9 L529.5,89.9 L530,90.8 L530.5,91.7 L531,92.6 L531.5,93.4 L532,94.1 L532.5,94.7 L533,95.3 L533.5,95.9 L534,96.4 L534.5,97 L535,97.5 L535.5,98 L536,98.6 L536.5,99.1 L537,99.6 L537.5,100.2 L538,100.8 L538.5,101.3 L539,101.9 L539.5,102.5 L540,103 L540.5,103.6 L541,104.1 L541.5,104.6 L542,105 L542.5,105.3 L543,105.6 L543.5,105.9 L544,106.1 L544.5,106.3 L545,106.5 L545.5,106.7 L546,106.9 L546.5,107.1 L547,107.2 L547.5,107.4 L548,107.5 L548.5,107.6 L549,107.8 L549.5,107.9 L550,108 L550.5,108.1 L551,108.2 L551.5,108.3 L552,108.4 L552.5,108.5 L553,108.6 L553.5,108.7 L554,108.8 L554.5,108.8 L555,108.9 L555.5,109 L556,109.1 L556.5,109.2 L557,109.3 L557.5,109.3 L558,109.4 L558.5,109.5 L559,109.5 L559.5,109.6 L560,109.6 L560.5,109.7 L561,109.7 L561.5,109.8 L562,109.8 L562.5,109.8 L563,109.8 L563.5,109.8 L564,109.8 L564.5,109.8 L565,109.8 L565.5,109.8 L566,109.8 L566.5,109.8 L567,109.8 L567.5,109.8 L568,109.8 L568.5,109.8 L569,109.8 L569.5,109.8 L570,109.8 L570.5,109.8 L571,109.8 L571.5,109.8 L572,109.8 L572.5,109.8 L573,109.8 L573.5,109.8 L574,109.8 L574.5,109.8 L575,109.8 L575.5,109.8 L576,109.8 L576.5,109.8 L577,109.8 L577.5,109.8 L578,109.8 L578.5,109.8 L579,109.8 L579.5,109.7 L580,109.7 L580.5,109.7 L581,109.7 L581.5,109.7 L582,109.7 L582.5,109.6 L583,109.6 L583.5,109.6 L584,109.6 L584.5,109.6 L585,109.5 L585.5,109.5 L586,109.5 L586.5,109.5 L587,109.4 L587.5,109.4 L588,109.4 L588.5,109.3 L589,109.3 L589.5,109.3 L590,109.3 L590.5,109.2 L591,109.2" fill="none" stroke="#a8a020" stroke-width="1.5" stroke-linejoin="round" stroke-linecap="round"/><rect x="18.1" y="241.3" width="270" height="176.7" fill="none" stroke="#1a1a1a" stroke-width="1.6"/><path d="M42.6,418 V421.4 M91.5,418 V421.4 M140.5,418 V421.4 M189.5,418 V421.4 M238.4,418 V421.4 M287.4,418 V421.4" stroke="#1a1a1a" stroke-width="1.3" fill="none"/><path d="M18.5,395.2 L19.1,395 L19.7,395.2 L20.3,394.8 L20.9,395.1 L21.5,396 L22.1,395.2 L22.7,395.1 L23.3,395.3 L23.9,395.4 L24.5,394.7 L25.1,395.1 L25.7,395.4 L26.3,395.2 L26.9,395.1 L27.5,395.6 L28.1,394.8 L28.7,395.1 L29.3,394.8 L29.9,395.5 L30.5,394.3 L31.1,394.7 L31.7,394.7 L32.3,395.1 L32.9,395.1 L33.5,395.3 L34.1,394.2 L34.7,395 L35.3,394.6 L35.9,394.4 L36.5,394.8 L37.1,394.2 L37.7,393.8 L38.3,394.3 L38.9,393.9 L39.5,394.1 L40.1,394.4 L40.7,394.4 L41.3,394.7 L41.9,394.1 L42.5,393.6 L43.1,393.8 L43.7,393.7 L44.3,393.5 L44.9,394 L45.5,393.6 L46.1,393 L46.7,393.9 L47.3,393.5 L47.9,393.6 L48.5,393.4 L49.1,393.4 L49.7,393.1 L50.3,393.3 L50.9,392.9 L51.5,392.8 L52.1,392.6 L52.7,391.8 L53.3,392.1 L53.9,392 L54.5,392 L55.1,391.3 L55.7,392.2 L56.3,391.4 L56.9,390.8 L57.5,390.3 L58.1,390.6 L58.7,390.3 L59.3,389.8 L59.9,389.7 L60.5,389 L61.1,388.9 L61.7,387.8 L62.3,387.4 L62.9,387 L63.5,386.7 L64.1,384.6 L64.7,383.8 L65.3,382.6 L65.9,382 L66.5,379.9 L67.1,378.5 L67.7,376.8 L68.3,374.4 L68.9,372.1 L69.5,369.7 L70.1,367 L70.7,364 L71.3,360.8 L71.9,357.4 L72.5,354.1 L73.1,350.9 L73.7,347.9 L74.3,344.9 L74.9,341.7 L75.5,338.2 L76.1,334.1 L76.7,329.9 L77.3,325.7 L77.9,321.6 L78.5,317.6 L79.1,313.5 L79.7,309.3 L80.3,305 L80.9,300.6 L81.5,296.1 L82.1,291.2 L82.7,286.3 L83.3,281.7 L83.9,277.1 L84.5,273 L85.1,269.4 L85.7,266.1 L86.3,263.2 L86.9,260.9 L87.5,258.8 L88.1,257.1 L88.7,256 L89.3,255.1 L89.9,255.2 L90.5,256.4 L91.1,258.3 L91.7,260.3 L92.3,262.7 L92.9,265.7 L93.5,269.3 L94.1,273.7 L94.7,280.1 L95.3,285.8 L95.9,290.8 L96.5,295.4 L97.1,299.8 L97.7,304.1 L98.3,308.1 L98.9,311.8 L99.5,315.4 L100.1,318.7 L100.7,321.9 L101.3,325 L101.9,327.9 L102.5,330.6 L103.1,333.5 L103.7,336.7 L104.3,340 L104.9,343 L105.5,346 L106.1,349 L106.7,352.2 L107.3,354.9 L107.9,356.8 L108.5,358.3 L109.1,360 L109.7,360.8 L110.3,361.8 L110.9,363.4 L111.5,362.5 L112.1,364.5 L112.7,364.6 L113.3,365.9 L113.9,365.8 L114.5,365.8 L115.1,366.7 L115.7,367.4 L116.3,367.3 L116.9,367.9 L117.5,367.8 L118.1,367.3 L118.7,369.3 L119.3,369.5 L119.9,369.4 L120.5,369.4 L121.1,369.9 L121.7,368.9 L122.3,368.5 L122.9,368.5 L123.5,369 L124.1,367.3 L124.7,368.6 L125.3,367.5 L125.9,367.1 L126.5,368.3 L127.1,367.4 L127.7,366.7 L128.3,367.2 L128.9,367.9 L129.5,368.1 L130.1,367.2 L130.7,367.6 L131.3,367.8 L131.9,367 L132.5,367.6 L133.1,367.4 L133.7,367.1 L134.3,367.2 L134.9,367.7 L135.5,367.8 L136.1,367.8 L136.7,368.1 L137.3,369.2 L137.9,369 L138.5,369.7 L139.1,370.1 L139.7,370 L140.3,371.2 L140.9,369.8 L141.5,370.9 L142.1,370.6 L142.7,372 L143.3,372.2 L143.9,370.5 L144.5,371.3 L145.1,372.4 L145.7,372.7 L146.3,372.9 L146.9,372.7 L147.5,373.1 L148.1,373.4 L148.7,373.2 L149.3,374 L149.9,372.3 L150.5,374.1 L151.1,373.3 L151.7,374.6 L152.3,374.1 L152.9,373.9 L153.5,374.7 L154.1,374.2 L154.7,374.4 L155.3,374.3 L155.9,375.4 L156.5,375.9 L157.1,376.5 L157.7,376.1 L158.3,377.1 L158.9,376.8 L159.5,377 L160.1,377.6 L160.7,378.2 L161.3,377.7 L161.9,377.9 L162.5,378.2 L163.1,378.6 L163.7,378.2 L164.3,379.5 L164.9,378.9 L165.5,379.6 L166.1,379.1 L166.7,379.9 L167.3,380.1 L167.9,379.8 L168.5,381.4 L169.1,380.6 L169.7,381.6 L170.3,381.3 L170.9,380.5 L171.5,380.8 L172.1,381.4 L172.7,381.3 L173.3,381.4 L173.9,381.4 L174.5,380.6 L175.1,381.6 L175.7,380.6 L176.3,382.1 L176.9,381.6 L177.5,381.7 L178.1,382.1 L178.7,382.4 L179.3,381.5 L179.9,381.4 L180.5,381.9 L181.1,381.4 L181.7,382.1 L182.3,383.6 L182.9,382.2 L183.5,383.2 L184.1,382.2 L184.7,383.2 L185.3,382.9 L185.9,383.1 L186.5,383.5 L187.1,384.3 L187.7,383.5 L188.3,383.5 L188.9,383 L189.5,383.9 L190.1,383.5 L190.7,384.2 L191.3,383.7 L191.9,384.8 L192.5,382.8 L193.1,383.8 L193.7,384.6 L194.3,384 L194.9,383.9 L195.5,384.3 L196.1,383.8 L196.7,384.7 L197.3,386.2 L197.9,385.6 L198.5,384.5 L199.1,384.8 L199.7,385.1 L200.3,386 L200.9,385.1 L201.5,385.2 L202.1,386.2 L202.7,386.3 L203.3,385.7 L203.9,385.3 L204.5,385.1 L205.1,385.7 L205.7,384.9 L206.3,386.6 L206.9,385.9 L207.5,386.6 L208.1,387.4 L208.7,387.1 L209.3,385.9 L209.9,387.1 L210.5,387.3 L211.1,386.3 L211.7,386.2 L212.3,386.8 L212.9,386 L213.5,387.8 L214.1,385.7 L214.7,386.5 L215.3,387.1 L215.9,387.2 L216.5,387.4 L217.1,387.6 L217.7,387.4 L218.3,388.2 L218.9,386.5 L219.5,387.7 L220.1,387.4 L220.7,387.9 L221.3,388 L221.9,387.5 L222.5,387.7 L223.1,388.5 L223.7,388.3 L224.3,387.8 L224.9,389.3 L225.5,389.5 L226.1,387.4 L226.7,388.4 L227.3,389.7 L227.9,388.8 L228.5,388.5 L229.1,388.3 L229.7,388.1 L230.3,388.3 L230.9,388.1 L231.5,388.9 L232.1,388.3 L232.7,388.2 L233.3,387.8 L233.9,388.5 L234.5,388 L235.1,388.4 L235.7,389.1 L236.3,388.8 L236.9,388.9 L237.5,388.8 L238.1,388.6 L238.7,388.5 L239.3,388.4 L239.9,389 L240.5,388 L241.1,389.3 L241.7,388.6 L242.3,388.2 L242.9,388.3 L243.5,388.2 L244.1,388.7 L244.7,388.2 L245.3,389.2 L245.9,388.1 L246.5,387.3 L247.1,388.1 L247.7,387.4 L248.3,388.5 L248.9,389.1 L249.5,388.8 L250.1,387.7 L250.7,388 L251.3,389.4 L251.9,388.6 L252.5,388.4 L253.1,389 L253.7,389.7 L254.3,389.1 L254.9,388.4 L255.5,388.5 L256.1,388.6 L256.7,388 L257.3,387.7 L257.9,388.3 L258.5,387.7 L259.1,388.2 L259.7,388.3 L260.3,389.5 L260.9,387.7 L261.5,388.1 L262.1,388.1 L262.7,388.4 L263.3,388.7 L263.9,387.8 L264.5,387.6 L265.1,387.1 L265.7,387.5 L266.3,388.3 L266.9,388 L267.5,387.4 L268.1,387.7 L268.7,387.9 L269.3,388.2 L269.9,387.6 L270.5,387.7 L271.1,386.8 L271.7,387.2 L272.3,388.7 L272.9,386.6 L273.5,387.6 L274.1,387.8 L274.7,387.5 L275.3,387.2 L275.9,387.6 L276.5,387.6 L277.1,387.6 L277.7,386.5 L278.3,387.5 L278.9,387 L279.5,387.2 L280.1,387.6 L280.7,387.8 L281.3,387.9 L281.9,387.1 L282.5,387.9 L283.1,388 L283.7,387.9 L284.3,388 L284.9,387.2 L285.5,387.1 L286.1,387.6 L286.7,386.4 L287.3,387.2 L287.5,386.8" fill="none" stroke="#000" stroke-width="1.7" stroke-linejoin="round" stroke-linecap="round"/><path d="M18.5,395.2 L19,395.2 L19.5,395.2 L20,395.2 L20.5,395.1 L21,395.1 L21.5,395.1 L22,395.1 L22.5,395.1 L23,395.1 L23.5,395.1 L24,395.1 L24.5,395.1 L25,395 L25.5,395 L26,395 L26.5,395 L27,395 L27.5,395 L28,395 L28.5,394.9 L29,394.9 L29.5,394.9 L30,394.9 L30.5,394.9 L31,394.9 L31.5,394.8 L32,394.8 L32.5,394.8 L33,394.8 L33.5,394.8 L34,394.8 L34.5,394.7 L35,394.7 L35.5,394.7 L36,394.7 L36.5,394.7 L37,394.6 L37.5,394.6 L38,394.6 L38.5,394.6 L39,394.6 L39.5,394.5 L40,394.5 L40.5,394.5 L41,394.5 L41.5,394.5 L42,394.4 L42.5,394.4 L43,394.4 L43.5,394.4 L44,394.4 L44.5,394.3 L45,394.3 L45.5,394.3 L46,394.3 L46.5,394.2 L47,394.2 L47.5,394.2 L48,394.2 L48.5,394.1 L49,394.1 L49.5,394.1 L50,394.1 L50.5,394.1 L51,394 L51.5,394 L52,394 L52.5,394 L53,393.9 L53.5,393.9 L54,393.9 L54.5,393.9 L55,393.8 L55.5,393.8 L56,393.8 L56.5,393.8 L57,393.7 L57.5,393.7 L58,393.7 L58.5,393.7 L59,393.6 L59.5,393.6 L60,393.6 L60.5,393.6 L61,393.5 L61.5,393.5 L62,393.5 L62.5,393.5 L63,393.4 L63.5,393.4 L64,393.4 L64.5,393.4 L65,393.3 L65.5,393.3 L66,393.3 L66.5,393.2 L67,393.2 L67.5,393.2 L68,393.1 L68.5,393.1 L69,393.1 L69.5,393 L70,393 L70.5,393 L71,392.9 L71.5,392.9 L72,392.9 L72.5,392.8 L73,392.8 L73.5,392.7 L74,392.7 L74.5,392.6 L75,392.6 L75.5,392.6 L76,392.5 L76.5,392.4 L77,392.4 L77.5,392.3 L78,392.3 L78.5,392.2 L79,392.1 L79.5,392.1 L80,392 L80.5,391.9 L81,391.8 L81.5,391.7 L82,391.7 L82.5,391.6 L83,391.5 L83.5,391.4 L84,391.3 L84.5,391.2 L85,391.1 L85.5,391 L86,390.9 L86.5,390.8 L87,390.7 L87.5,390.6 L88,390.5 L88.5,390.3 L89,390.2 L89.5,390.1 L90,390 L90.5,389.9 L91,389.7 L91.5,389.6 L92,389.5 L92.5,389.4 L93,389.2 L93.5,389.1 L94,388.9 L94.5,388.8 L95,388.6 L95.5,388.4 L96,388.3 L96.5,388.1 L97,387.9 L97.5,387.7 L98,387.5 L98.5,387.3 L99,387.1 L99.5,386.9 L100,386.6 L100.5,386.4 L101,386.2 L101.5,385.9 L102,385.7 L102.5,385.4 L103,385.1 L103.5,384.9 L104,384.6 L104.5,384.3 L105,384.1 L105.5,383.8 L106,383.4 L106.5,383.1 L107,382.7 L107.5,382.3 L108,381.9 L108.5,381.5 L109,381.1 L109.5,380.7 L110,380.2 L110.5,379.8 L111,379.4 L111.5,378.9 L112,378.5 L112.5,378.1 L113,377.7 L113.5,377.3 L114,376.9 L114.5,376.6 L115,376.2 L115.5,375.9 L116,375.5 L116.5,375.2 L117,374.8 L117.5,374.5 L118,374.2 L118.5,373.8 L119,373.5 L119.5,373.2 L120,372.9 L120.5,372.6 L121,372.3 L121.5,372 L122,371.7 L122.5,371.5 L123,371.2 L123.5,370.9 L124,370.7 L124.5,370.4 L125,370.2 L125.5,370 L126,369.7 L126.5,369.5 L127,369.3 L127.5,369.1 L128,369 L128.5,368.9 L129,368.8 L129.5,368.7 L130,368.6 L130.5,368.6 L131,368.5 L131.5,368.4 L132,368.4 L132.5,368.4 L133,368.3 L133.5,368.3 L134,368.3 L134.5,368.3 L135,368.4 L135.5,368.5 L136,368.6 L136.5,368.8 L137,368.9 L137.5,369.1 L138,369.3 L138.5,369.6 L139,369.8 L139.5,370 L140,370.2 L140.5,370.5 L141,370.8 L141.5,371.1 L142,371.5 L142.5,371.8 L143,372.2 L143.5,372.7 L144,373.1 L144.5,373.5 L145,373.9 L145.5,374.4 L146,374.8 L146.5,375.2 L147,375.6 L147.5,376.1 L148,376.5 L148.5,376.9 L149,377.4 L149.5,377.8 L150,378.3 L150.5,378.8 L151,379.2 L151.5,379.7 L152,380.1 L152.5,380.5 L153,381 L153.5,381.4 L154,381.8 L154.5,382.1 L155,382.5 L155.5,382.8 L156,383.2 L156.5,383.5 L157,383.9 L157.5,384.2 L158,384.5 L158.5,384.9 L159,385.2 L159.5,385.5 L160,385.7 L160.5,386 L161,386.3 L161.5,386.5 L162,386.7 L162.5,386.9 L163,387.1 L163.5,387.3 L164,387.4 L164.5,387.6 L165,387.8 L165.5,387.9 L166,388.1 L166.5,388.3 L167,388.4 L167.5,388.5 L168,388.7 L168.5,388.8 L169,388.9 L169.5,389.1 L170,389.2 L170.5,389.3 L171,389.3 L171.5,389.4 L172,389.5 L172.5,389.5 L173,389.6 L173.5,389.6 L174,389.6 L174.5,389.7 L175,389.7 L175.5,389.7 L176,389.8 L176.5,389.8 L177,389.8 L177.5,389.8 L178,389.8 L178.5,389.9 L179,389.9 L179.5,389.9 L180,389.9 L180.5,389.9 L181,389.9 L181.5,389.9 L182,390 L182.5,390 L183,390 L183.5,390 L184,390 L184.5,390 L185,390 L185.5,390 L186,390.1 L186.5,390.1 L187,390.1 L187.5,390.1 L188,390.1 L188.5,390.1 L189,390.1 L189.5,390.1 L190,390.2 L190.5,390.2 L191,390.2 L191.5,390.2 L192,390.2 L192.5,390.2 L193,390.2 L193.5,390.2 L194,390.2 L194.5,390.2 L195,390.2 L195.5,390.1 L196,390.1 L196.5,390.1 L197,390.1 L197.5,390.1 L198,390.1" fill="none" stroke="#2e8b22" stroke-width="1.5" stroke-linejoin="round" stroke-linecap="round"/><path d="M18.5,395.3 L19,395.3 L19.5,395.3 L20,395.3 L20.5,395.3 L21,395.3 L21.5,395.3 L22,395.3 L22.5,395.3 L23,395.3 L23.5,395.3 L24,395.3 L24.5,395.3 L25,395.3 L25.5,395.3 L26,395.2 L26.5,395.2 L27,395.2 L27.5,395.2 L28,395.2 L28.5,395.2 L29,395.2 L29.5,395.2 L30,395.2 L30.5,395.2 L31,395.2 L31.5,395.2 L32,395.2 L32.5,395.1 L33,395.1 L33.5,395.1 L34,395.1 L34.5,395.1 L35,395.1 L35.5,395.1 L36,395.1 L36.5,395 L37,395 L37.5,395 L38,395 L38.5,395 L39,395 L39.5,395 L40,394.9 L40.5,394.9 L41,394.9 L41.5,394.9 L42,394.9 L42.5,394.9 L43,394.8 L43.5,394.8 L44,394.8 L44.5,394.8 L45,394.8 L45.5,394.7 L46,394.7 L46.5,394.7 L47,394.7 L47.5,394.6 L48,394.6 L48.5,394.6 L49,394.6 L49.5,394.5 L50,394.5 L50.5,394.5 L51,394.5 L51.5,394.4 L52,394.4 L52.5,394.4 L53,394.4 L53.5,394.3 L54,394.3 L54.5,394.3 L55,394.2 L55.5,394.2 L56,394.2 L56.5,394.1 L57,394.1 L57.5,394.1 L58,394 L58.5,394 L59,393.9 L59.5,393.9 L60,393.8 L60.5,393.7 L61,393.6 L61.5,393.5 L62,393.4 L62.5,393.2 L63,393.1 L63.5,392.9 L64,392.8 L64.5,392.6 L65,392.4 L65.5,392.2 L66,391.9 L66.5,391.7 L67,391.3 L67.5,391 L68,390.6 L68.5,390.2 L69,389.8 L69.5,389.4 L70,388.9 L70.5,388.4 L71,387.8 L71.5,387.2 L72,386.4 L72.5,385.6 L73,384.8 L73.5,383.9 L74,382.9 L74.5,381.9 L75,380.9 L75.5,379.8 L76,378.7 L76.5,377.4 L77,376.1 L77.5,374.6 L78,373.1 L78.5,371.6 L79,370 L79.5,368.4 L80,366.8 L80.5,365.1 L81,363.3 L81.5,361.4 L82,359.3 L82.5,357 L83,354.3 L83.5,351.3 L84,348 L84.5,344.8 L85,341.8 L85.5,338.5 L86,335.3 L86.5,332.4 L87,330.2 L87.5,328.3 L88,326.7 L88.5,325.5 L89,324.6 L89.5,324 L90,323.6 L90.5,323.4 L91,323.3 L91.5,323.3 L92,323.6 L92.5,324 L93,324.5 L93.5,325 L94,325.7 L94.5,326.6 L95,327.6 L95.5,328.7 L96,330.4 L96.5,333 L97,336.1 L97.5,339.1 L98,342.2 L98.5,345.5 L99,348.8 L99.5,351.8 L100,354.7 L100.5,357.4 L101,360.2 L101.5,362.8 L102,365.5 L102.5,368 L103,370.7 L103.5,373.3 L104,375.4 L104.5,377.2 L105,379 L105.5,380.6 L106,382 L106.5,383.3 L107,384.4 L107.5,385.4 L108,386.2 L108.5,387 L109,387.7 L109.5,388.4 L110,388.9 L110.5,389.4 L111,389.9 L111.5,390.2 L112,390.5 L112.5,390.9 L113,391.2 L113.5,391.4 L114,391.7 L114.5,391.9 L115,392 L115.5,392.1 L116,392.2 L116.5,392.2 L117,392.2 L117.5,392.2 L118,392.3 L118.5,392.3 L119,392.3 L119.5,392.3 L120,392.3 L120.5,392.3 L121,392.3" fill="none" stroke="#f23cf2" stroke-width="1.6" stroke-linejoin="round" stroke-linecap="round"/><path d="M18.5,395.3 L19,395.3 L19.5,395.3 L20,395.3 L20.5,395.3 L21,395.3 L21.5,395.3 L22,395.3 L22.5,395.3 L23,395.3 L23.5,395.3 L24,395.3 L24.5,395.3 L25,395.2 L25.5,395.2 L26,395.2 L26.5,395.2 L27,395.2 L27.5,395.2 L28,395.2 L28.5,395.2 L29,395.2 L29.5,395.2 L30,395.2 L30.5,395.1 L31,395.1 L31.5,395.1 L32,395.1 L32.5,395.1 L33,395.1 L33.5,395.1 L34,395 L34.5,395 L35,395 L35.5,395 L36,395 L36.5,395 L37,394.9 L37.5,394.9 L38,394.9 L38.5,394.9 L39,394.9 L39.5,394.8 L40,394.8 L40.5,394.8 L41,394.8 L41.5,394.7 L42,394.7 L42.5,394.7 L43,394.7 L43.5,394.6 L44,394.6 L44.5,394.6 L45,394.6 L45.5,394.5 L46,394.5 L46.5,394.5 L47,394.4 L47.5,394.4 L48,394.4 L48.5,394.4 L49,394.3 L49.5,394.3 L50,394.3 L50.5,394.2 L51,394.2 L51.5,394.2 L52,394.1 L52.5,394.1 L53,394 L53.5,393.9 L54,393.8 L54.5,393.7 L55,393.6 L55.5,393.4 L56,393.3 L56.5,393.2 L57,393 L57.5,392.9 L58,392.8 L58.5,392.7 L59,392.6 L59.5,392.5 L60,392.5 L60.5,392.4 L61,392.3 L61.5,392.1 L62,392 L62.5,391.8 L63,391.5 L63.5,391.1 L64,390.7 L64.5,390.2 L65,389.6 L65.5,389 L66,388.3 L66.5,387.5 L67,386.5 L67.5,385.3 L68,384 L68.5,382.6 L69,381.1 L69.5,379.6 L70,378 L70.5,376.2 L71,374.2 L71.5,372.2 L72,370 L72.5,367.8 L73,365.4 L73.5,362.9 L74,360 L74.5,356.6 L75,352.6 L75.5,348.4 L76,344.1 L76.5,340 L77,336.3 L77.5,332.5 L78,328.1 L78.5,322.6 L79,316.6 L79.5,311 L80,306.5 L80.5,303 L81,300 L81.5,297.2 L82,294.9 L82.5,292.8 L83,291 L83.5,289.5 L84,288.4 L84.5,287.6 L85,287.1 L85.5,287.2 L86,287.7 L86.5,288.4 L87,289.6 L87.5,291.4 L88,294.6 L88.5,298.7 L89,302.4 L89.5,306 L90,309.7 L90.5,313.6 L91,317.7 L91.5,321.9 L92,326 L92.5,330 L93,333.7 L93.5,337.3 L94,340.9 L94.5,344.4 L95,348 L95.5,351.5 L96,355 L96.5,358.6 L97,362.1 L97.5,365.4 L98,368.3 L98.5,371.1 L99,373.6 L99.5,375.9 L100,378.1 L100.5,380.2 L101,382.1 L101.5,383.7 L102,385 L102.5,386 L103,387 L103.5,387.8 L104,388.6 L104.5,389.2 L105,389.7 L105.5,390.2 L106,390.5 L106.5,390.9 L107,391.2 L107.5,391.4 L108,391.6 L108.5,391.7 L109,391.9 L109.5,392 L110,392.1 L110.5,392.2 L111,392.3 L111.5,392.4 L112,392.4 L112.5,392.4 L113,392.4 L113.5,392.4 L114,392.4 L114.5,392.5 L115,392.5 L115.5,392.5 L116,392.5" fill="none" stroke="#2a3af0" stroke-width="1.6" stroke-linejoin="round" stroke-linecap="round"/><path d="M18.5,395.3 L19,395.3 L19.5,395.3 L20,395.3 L20.5,395.3 L21,395.3 L21.5,395.3 L22,395.2 L22.5,395.2 L23,395.2 L23.5,395.2 L24,395.2 L24.5,395.2 L25,395.2 L25.5,395.2 L26,395.2 L26.5,395.1 L27,395.1 L27.5,395.1 L28,395.1 L28.5,395.1 L29,395.1 L29.5,395 L30,395 L30.5,395 L31,395 L31.5,394.9 L32,394.9 L32.5,394.9 L33,394.9 L33.5,394.9 L34,394.8 L34.5,394.8 L35,394.8 L35.5,394.8 L36,394.7 L36.5,394.7 L37,394.7 L37.5,394.7 L38,394.6 L38.5,394.6 L39,394.6 L39.5,394.5 L40,394.5 L40.5,394.5 L41,394.5 L41.5,394.4 L42,394.4 L42.5,394.4 L43,394.3 L43.5,394.3 L44,394.3 L44.5,394.2 L45,394.2 L45.5,394.2 L46,394.2 L46.5,394.1 L47,394.1 L47.5,394.1 L48,394 L48.5,394 L49,393.9 L49.5,393.9 L50,393.8 L50.5,393.7 L51,393.6 L51.5,393.6 L52,393.4 L52.5,393.3 L53,393.2 L53.5,393.1 L54,392.9 L54.5,392.8 L55,392.6 L55.5,392.5 L56,392.3 L56.5,392.1 L57,392 L57.5,391.8 L58,391.6 L58.5,391.3 L59,391.1 L59.5,390.9 L60,390.6 L60.5,390.3 L61,390 L61.5,389.7 L62,389.3 L62.5,388.9 L63,388.4 L63.5,387.9 L64,387.3 L64.5,386.6 L65,385.9 L65.5,385.1 L66,384.3 L66.5,383.3 L67,382.2 L67.5,381 L68,379.6 L68.5,378 L69,376.2 L69.5,374.2 L70,372.1 L70.5,370 L71,367.8 L71.5,365.6 L72,363.2 L72.5,360.6 L73,357.6 L73.5,354.2 L74,350.5 L74.5,346.7 L75,342.9 L75.5,339.3 L76,335.8 L76.5,332.2 L77,328.5 L77.5,324.6 L78,320.5 L78.5,316 L79,310.6 L79.5,304.4 L80,298.6 L80.5,293.8 L81,289.5 L81.5,285.5 L82,281.7 L82.5,278 L83,274.6 L83.5,271.5 L84,268.6 L84.5,265.9 L85,263.5 L85.5,261.5 L86,259.8 L86.5,258.2 L87,256.9 L87.5,256 L88,255.2 L88.5,254.6 L89,254.1 L89.5,253.9 L90,254.2 L90.5,254.8 L91,255.6 L91.5,256.6 L92,258.1 L92.5,259.9 L93,261.9 L93.5,263.9 L94,266.2 L94.5,268.9 L95,272.1 L95.5,276.8 L96,282.2 L96.5,286.7 L97,290.9 L97.5,295 L98,299.4 L98.5,304.3 L99,309.1 L99.5,313.7 L100,318.2 L100.5,322.7 L101,326.9 L101.5,330.7 L102,334.3 L102.5,337.6 L103,340.8 L103.5,343.8 L104,346.8 L104.5,349.6 L105,352.3 L105.5,354.9 L106,357.5 L106.5,360.1 L107,362.6 L107.5,365 L108,367.4 L108.5,369.6 L109,371.7 L109.5,373.7 L110,375.6 L110.5,377.4 L111,379 L111.5,380.5 L112,381.9 L112.5,383.2 L113,384.3 L113.5,385.3 L114,386.2 L114.5,387 L115,387.7 L115.5,388.3 L116,388.9 L116.5,389.4 L117,389.9 L117.5,390.2 L118,390.5 L118.5,390.8 L119,391.1 L119.5,391.3 L120,391.5 L120.5,391.6 L121,391.7 L121.5,391.8 L122,391.8 L122.5,391.9 L123,391.9 L123.5,392 L124,392 L124.5,392 L125,392.1 L125.5,392.1 L126,392.1 L126.5,392.1 L127,392.1 L127.5,392.1 L128,392.1 L128.5,392.1 L129,392.1 L129.5,392.1 L130,392.1 L130.5,392 L131,392" fill="none" stroke="#ee2020" stroke-width="1.5" stroke-linejoin="round" stroke-linecap="round"/><path d="M18.5,395.3 L287.5,387.5" fill="none" stroke="#2a2a9a" stroke-width="1.5" stroke-linejoin="round" stroke-linecap="round"/><path d="M97.7,253.8 L146.6,255" stroke="#e82828" stroke-width="1.1" fill="none"/><path d="M92.2,253.7 L97.7,255.5 L97.7,252.1 Z" fill="#e82828" stroke="none"/><path d="M92.2,286.1 L139.1,277.9" stroke="#3040e0" stroke-width="1.1" fill="none"/><path d="M86.8,287 L92.5,287.7 L91.9,284.4 Z" fill="#3040e0" stroke="none"/><path d="M96.8,321.7 L147.4,303.5" stroke="#f040f0" stroke-width="1.1" fill="none"/><path d="M91.6,323.6 L97.4,323.3 L96.2,320.1 Z" fill="#f040f0" stroke="none"/><path d="M141.6,363.2 L206.5,332.1" stroke="#3a9a2a" stroke-width="1.1" fill="none"/><path d="M136.6,365.6 L142.3,364.8 L140.8,361.7 Z" fill="#3a9a2a" stroke="none"/><rect x="325.2" y="245.5" width="265" height="171.9" fill="none" stroke="#1a1a1a" stroke-width="1.5"/><path d="M325.2,417.4 V420.2 M391.3,417.4 V420.2 M457.4,417.4 V420.2 M523.5,417.4 V420.2 M589.6,417.4 V420.2" stroke="#1a1a1a" stroke-width="1.3" fill="none"/><path d="M358.2,417.4 V419.2 M424.4,417.4 V419.2 M490.4,417.4 V419.2 M556.5,417.4 V419.2" stroke="#1a1a1a" stroke-width="1.3" fill="none"/><path d="M325.5,376.5 L326.1,375.5 L326.7,375.9 L327.3,376.3 L327.9,376.7 L328.5,376.7 L329.1,375.9 L329.7,375.7 L330.3,375.2 L330.9,375.8 L331.5,375.3 L332.1,375.7 L332.7,376.2 L333.3,375 L333.9,374 L334.5,374.2 L335.1,373.7 L335.7,373.8 L336.3,375.1 L336.9,374.4 L337.5,373.2 L338.1,374.3 L338.7,374.6 L339.3,373.4 L339.9,373.1 L340.5,373.2 L341.1,373.4 L341.7,373.5 L342.3,373.7 L342.9,373.5 L343.5,373.4 L344.1,373.3 L344.7,372.7 L345.3,371.3 L345.9,371.9 L346.5,372.1 L347.1,371.5 L347.7,372.1 L348.3,371.2 L348.9,370.7 L349.5,372 L350.1,371.3 L350.7,370.9 L351.3,371.2 L351.9,371.1 L352.5,370.6 L353.1,368.7 L353.7,369.7 L354.3,369.7 L354.9,369.2 L355.5,369.8 L356.1,370.3 L356.7,369.1 L357.3,368.6 L357.9,370.4 L358.5,368.8 L359.1,368.2 L359.7,368.9 L360.3,368.9 L360.9,368.1 L361.5,368.9 L362.1,368 L362.7,367.6 L363.3,368.2 L363.9,368.4 L364.5,367.5 L365.1,367.9 L365.7,367.6 L366.3,369.2 L366.9,367 L367.5,368.1 L368.1,367.1 L368.7,367 L369.3,367.4 L369.9,367.4 L370.5,367.5 L371.1,366.8 L371.7,366.1 L372.3,366.1 L372.9,366.6 L373.5,366.5 L374.1,366.9 L374.7,366.2 L375.3,366.5 L375.9,366.7 L376.5,365.8 L377.1,364.7 L377.7,364.8 L378.3,364.5 L378.9,366.2 L379.5,364.7 L380.1,365.8 L380.7,365.3 L381.3,365.9 L381.9,365.4 L382.5,364.6 L383.1,364.4 L383.7,364.5 L384.3,364.5 L384.9,363.9 L385.5,364.1 L386.1,365 L386.7,362.9 L387.3,364 L387.9,363.1 L388.5,363.7 L389.1,363.9 L389.7,363.3 L390.3,363.7 L390.9,362.1 L391.5,363.6 L392.1,362.4 L392.7,363 L393.3,362.6 L393.9,360.8 L394.5,361.8 L395.1,362.2 L395.7,362.8 L396.3,361.9 L396.9,361.8 L397.5,360.6 L398.1,362.1 L398.7,362.2 L399.3,361 L399.9,360.7 L400.5,359.7 L401.1,361 L401.7,362 L402.3,360.6 L402.9,360.8 L403.5,360.2 L404.1,359.1 L404.7,360.4 L405.3,358.7 L405.9,359.2 L406.5,359.3 L407.1,359.5 L407.7,359.1 L408.3,358.9 L408.9,358.1 L409.5,357.6 L410.1,358.3 L410.7,357.7 L411.3,357.1 L411.9,357 L412.5,357.3 L413.1,356.4 L413.7,356.5 L414.3,356.2 L414.9,357.1 L415.5,357.1 L416.1,357.9 L416.7,355.7 L417.3,356 L417.9,356.8 L418.5,356 L419.1,355.8 L419.7,356.9 L420.3,355.5 L420.9,354.9 L421.5,354.6 L422.1,355.5 L422.7,355.3 L423.3,354.2 L423.9,354.3 L424.5,355.1 L425.1,355 L425.7,354.1 L426.3,354.7 L426.9,354.6 L427.5,353 L428.1,353.8 L428.7,354.1 L429.3,353.4 L429.9,352.3 L430.5,353.3 L431.1,353.8 L431.7,354.2 L432.3,351.8 L432.9,354.5 L433.5,352.2 L434.1,353.3 L434.7,353.3 L435.3,353 L435.9,352.4 L436.5,351.5 L437.1,352.4 L437.7,351.5 L438.3,350.3 L438.9,353.4 L439.5,352 L440.1,352.5 L440.7,350.7 L441.3,352 L441.9,351.9 L442.5,351.7 L443.1,350.6 L443.7,349.6 L444.3,350 L444.9,348.6 L445.5,348.6 L446.1,349.4 L446.7,348.5 L447.3,348.7 L447.9,348.4 L448.5,349.3 L449.1,348.6 L449.7,347.4 L450.3,347.8 L450.9,346.2 L451.5,346.1 L452.1,346.5 L452.7,344.8 L453.3,344.9 L453.9,343.8 L454.5,344.2 L455.1,344.6 L455.7,342.6 L456.3,342.7 L456.9,341.4 L457.5,340.8 L458.1,340.2 L458.7,341.2 L459.3,341.1 L459.9,339.3 L460.5,337.9 L461.1,338.1 L461.7,336.9 L462.3,337 L462.9,336.2 L463.5,335.8 L464.1,335.8 L464.7,334.9 L465.3,334.8 L465.9,333.8 L466.5,334.4 L467.1,333.7 L467.7,334.4 L468.3,333.8 L468.9,334.5 L469.5,334.7 L470.1,333.7 L470.7,334.2 L471.3,334.3 L471.9,335.6 L472.5,336.4 L473.1,336.1 L473.7,335.5 L474.3,336.8 L474.9,335.1 L475.5,337.1 L476.1,336 L476.7,334.8 L477.3,338.2 L477.9,337.7 L478.5,336.3 L479.1,337.1 L479.7,336.9 L480.3,337.1 L480.9,336.1 L481.5,336.5 L482.1,337.1 L482.7,336.8 L483.3,337.3 L483.9,336.5 L484.5,337.7 L485.1,335.7 L485.7,336.2 L486.3,334.8 L486.9,335.1 L487.5,336.5 L488.1,335 L488.7,335.8 L489.3,335.3 L489.9,334.6 L490.5,334.9 L491.1,334.6 L491.7,334.5 L492.3,335.1 L492.9,335 L493.5,334.1 L494.1,333.8 L494.7,334.4 L495.3,334 L495.9,334.6 L496.5,335.4 L497.1,334.2 L497.7,333.5 L498.3,333.3 L498.9,332.7 L499.5,332.5 L500.1,332.3 L500.7,332.5 L501.3,332.3 L501.9,332.8 L502.5,332 L503.1,331.9 L503.7,331.1 L504.3,332.6 L504.9,331.8 L505.5,332.3 L506.1,331.5 L506.7,331.7 L507.3,330.5 L507.9,330.9 L508.5,331.8 L509.1,329.3 L509.7,330.5 L510.3,330.6 L510.9,329.6 L511.5,329.6 L512.1,329.7 L512.7,328.3 L513.3,328.7 L513.9,327.6 L514.5,327.5 L515.1,327.3 L515.7,327.3 L516.3,327.3 L516.9,327.2 L517.5,325.8 L518.1,327.7 L518.7,326.9 L519.3,326.4 L519.9,325.5 L520.5,325.4 L521.1,325.6 L521.7,325.3 L522.3,323.8 L522.9,325 L523.5,326.2 L524.1,323 L524.7,324.5 L525.3,323.9 L525.9,323.4 L526.5,324.1 L527.1,322.3 L527.7,322.9 L528.3,323.5 L528.9,322.2 L529.5,321.9 L530.1,322 L530.7,321.4 L531.3,322.4 L531.9,320.6 L532.5,321.5 L533.1,320 L533.7,320.9 L534.3,320.2 L534.9,318.5 L535.5,319.9 L536.1,319 L536.7,319.2 L537.3,320.2 L537.9,318.4 L538.5,318.3 L539.1,319.6 L539.7,318.6 L540.3,319.3 L540.9,318.4 L541.5,317.5 L542.1,317.8 L542.7,318.4 L543.3,318 L543.9,317.2 L544.5,317.1 L545.1,316.8 L545.7,316.3 L546.3,317.6 L546.9,316.2 L547.5,315.3 L548.1,315.5 L548.7,316 L549.3,315.7 L549.9,315 L550.5,314.5 L551.1,314.6 L551.7,313.3 L552.3,313.3 L552.9,314.4 L553.5,313.3 L554.1,313.6 L554.7,313.8 L555.3,313.2 L555.9,312.6 L556.5,313.6 L557.1,312.4 L557.7,311.5 L558.3,311.9 L558.9,311.4 L559.5,310.3 L560.1,310.6 L560.7,310.2 L561.3,308.8 L561.9,309.6 L562.5,309.2 L563.1,308.9 L563.7,307.9 L564.3,308.4 L564.9,308.3 L565.5,308.1 L566.1,307.1 L566.7,307.9 L567.3,306.5 L567.9,306.9 L568.5,307.6 L569.1,306.1 L569.7,305.9 L570.3,306.6 L570.9,305.5 L571.5,305.2 L572.1,305.3 L572.7,305.5 L573.3,303.2 L573.9,303.8 L574.5,303.4 L575.1,303.1 L575.7,303 L576.3,302.7 L576.9,303.2 L577.5,302.2 L578.1,302.6 L578.7,302.6 L579.3,301.7 L579.9,302 L580.5,302.7 L581.1,301.7 L581.7,300.9 L582.3,301 L582.9,300.3 L583.5,300.8 L584.1,300.9 L584.7,299.7 L585.3,299.9 L585.9,300.5 L586.5,299.3 L587.1,299.5 L587.7,298.6 L588.3,298.5 L588.9,298.5 L589.5,299.9 L589.8,298.3" fill="none" stroke="#000" stroke-width="1.8" stroke-linejoin="round" stroke-linecap="round"/><path d="M418.5,344.2 L400.2,322.1" stroke="#000" stroke-width="1.8" fill="none"/><path d="M422.3,348.8 L420.5,342.5 L416.5,345.8 Z" fill="#000" stroke="none"/><path d="M467.9,317.9 L471.9,294.3" stroke="#000" stroke-width="1.8" fill="none"/><path d="M466.9,323.8 L470.5,318.3 L465.3,317.4 Z" fill="#000" stroke="none"/><path d="M503.1,314.8 L516.7,293.9" stroke="#000" stroke-width="1.8" fill="none"/><path d="M499.8,319.8 L505.3,316.2 L500.9,313.4 Z" fill="#000" stroke="none"/><g opacity="0.995"><text x="0" y="0" transform="translate(17.15 208.80) scale(0.8138 0.8143)" font-family="Liberation Serif" font-weight="bold" font-size="10" fill="#111" stroke="#111" stroke-width="0.35" text-anchor="middle">0</text><text x="0" y="0" transform="translate(66.90 208.80) scale(0.8138 0.8143)" font-family="Liberation Serif" font-weight="bold" font-size="10" fill="#111" stroke="#111" stroke-width="0.35" text-anchor="middle">200</text><text x="0" y="0" transform="translate(116.60 208.80) scale(0.8138 0.8143)" font-family="Liberation Serif" font-weight="bold" font-size="10" fill="#111" stroke="#111" stroke-width="0.35" text-anchor="middle">400</text><text x="0" y="0" transform="translate(166.40 208.80) scale(0.8138 0.8143)" font-family="Liberation Serif" font-weight="bold" font-size="10" fill="#111" stroke="#111" stroke-width="0.35" text-anchor="middle">600</text><text x="0" y="0" transform="translate(216.40 208.80) scale(0.8138 0.8143)" font-family="Liberation Serif" font-weight="bold" font-size="10" fill="#111" stroke="#111" stroke-width="0.35" text-anchor="middle">800</text><text x="0" y="0" transform="translate(266.30 208.80) scale(0.8138 0.8143)" font-family="Liberation Serif" font-weight="bold" font-size="10" fill="#111" stroke="#111" stroke-width="0.35" text-anchor="middle">1000</text><text x="0" y="0" transform="translate(110.50 220.55) scale(1.0204 0.8205)" font-family="Liberation Serif" font-weight="bold" font-size="10" fill="#111" stroke="#111" stroke-width="0.35">Binding Energy(eV)</text><text x="0" y="0" transform="translate(8.42 134.13) scale(0.9538 0.9270) rotate(-90)" font-family="Liberation Serif" font-weight="bold" font-size="10" fill="#111" stroke="#111" stroke-width="0.35">Intensity(arb.unit)</text><text x="0" y="0" transform="translate(92.71 128.83) scale(1.1429 0.9315) rotate(-90)" font-family="Liberation Serif" font-weight="bold" font-size="10" fill="#111" stroke="#111" stroke-width="0.35">C 1s</text><text x="0" y="0" transform="translate(150.76 40.04) scale(0.9429 0.9440) rotate(-90)" font-family="Liberation Serif" font-weight="bold" font-size="10" fill="#111" stroke="#111" stroke-width="0.35">O 1s</text><text x="0" y="0" transform="translate(179.97 28.20) scale(1.1667 0.9153) rotate(-90)" font-family="Liberation Serif" font-weight="bold" font-size="10" fill="#111" stroke="#111" stroke-width="0.35">Mn 2p</text><text x="0" y="0" transform="translate(20.32 18.81) scale(1.0338 0.9964)" font-family="Liberation Sans" font-weight="normal" font-size="14.5" fill="#111" stroke="#111" stroke-width="0.2">(a)</text><text x="0" y="0" transform="translate(317.20 211.59) scale(0.8621 0.8286)" font-family="Liberation Serif" font-weight="bold" font-size="10" fill="#111" stroke="#111" stroke-width="0.35" text-anchor="middle">635</text><text x="0" y="0" transform="translate(372.04 211.59) scale(0.8621 0.8286)" font-family="Liberation Serif" font-weight="bold" font-size="10" fill="#111" stroke="#111" stroke-width="0.35" text-anchor="middle">640</text><text x="0" y="0" transform="translate(426.88 211.59) scale(0.8621 0.8286)" font-family="Liberation Serif" font-weight="bold" font-size="10" fill="#111" stroke="#111" stroke-width="0.35" text-anchor="middle">645</text><text x="0" y="0" transform="translate(481.72 211.59) scale(0.8621 0.8286)" font-family="Liberation Serif" font-weight="bold" font-size="10" fill="#111" stroke="#111" stroke-width="0.35" text-anchor="middle">650</text><text x="0" y="0" transform="translate(536.56 211.59) scale(0.8621 0.8286)" font-family="Liberation Serif" font-weight="bold" font-size="10" fill="#111" stroke="#111" stroke-width="0.35" text-anchor="middle">655</text><text x="0" y="0" transform="translate(591.40 211.59) scale(0.8621 0.8286)" font-family="Liberation Serif" font-weight="bold" font-size="10" fill="#111" stroke="#111" stroke-width="0.35" text-anchor="middle">660</text><text x="0" y="0" transform="translate(412.10 221.10) scale(1.0041 0.8410)" font-family="Liberation Serif" font-weight="bold" font-size="10" fill="#111" stroke="#111" stroke-width="0.35">Binding Energy(eV)</text><text x="0" y="0" transform="translate(310.74 124.83) scale(0.9436 0.9105) rotate(-90)" font-family="Liberation Serif" font-weight="bold" font-size="10" fill="#111" stroke="#111" stroke-width="0.35">Intensity(arb.unit)</text><text x="0" y="0" transform="translate(324.01 18.92) scale(1.0585 0.9786)" font-family="Liberation Sans" font-weight="normal" font-size="14.5" fill="#111" stroke="#111" stroke-width="0.2">(b)</text><text x="0" y="0" transform="translate(558.00 17.00) scale(0.9964 0.8889)" font-family="Liberation Serif" font-weight="bold" font-size="10" fill="#111" stroke="#111" stroke-width="0.35">Mn 2p</text><text x="0" y="0" transform="translate(383.10 20.35) scale(0.9972 0.8818)" font-family="Liberation Serif" font-weight="bold" font-size="10" fill="#111" stroke="#111" stroke-width="0.35">Mn 2p<tspan font-size="6" dy="3.9" dx="0.3">3/2</tspan></text><text x="0" y="0" transform="translate(502.90 54.81) scale(0.9861 0.8455)" font-family="Liberation Serif" font-weight="bold" font-size="10" fill="#111" stroke="#111" stroke-width="0.35">Mn 2p<tspan font-size="6" dy="3.9" dx="0.3">1/2</tspan></text><text x="0" y="0" transform="translate(42.58 429.60) scale(0.8414 0.8143)" font-family="Liberation Serif" font-weight="bold" font-size="10" fill="#111" stroke="#111" stroke-width="0.35" text-anchor="middle">526</text><text x="0" y="0" transform="translate(91.54 429.60) scale(0.8414 0.8143)" font-family="Liberation Serif" font-weight="bold" font-size="10" fill="#111" stroke="#111" stroke-width="0.35" text-anchor="middle">528</text><text x="0" y="0" transform="translate(140.50 429.60) scale(0.8414 0.8143)" font-family="Liberation Serif" font-weight="bold" font-size="10" fill="#111" stroke="#111" stroke-width="0.35" text-anchor="middle">530</text><text x="0" y="0" transform="translate(189.46 429.60) scale(0.8414 0.8143)" font-family="Liberation Serif" font-weight="bold" font-size="10" fill="#111" stroke="#111" stroke-width="0.35" text-anchor="middle">532</text><text x="0" y="0" transform="translate(238.42 429.60) scale(0.8414 0.8143)" font-family="Liberation Serif" font-weight="bold" font-size="10" fill="#111" stroke="#111" stroke-width="0.35" text-anchor="middle">534</text><text x="0" y="0" transform="translate(287.38 429.60) scale(0.8414 0.8143)" font-family="Liberation Serif" font-weight="bold" font-size="10" fill="#111" stroke="#111" stroke-width="0.35" text-anchor="middle">536</text><text x="0" y="0" transform="translate(109.10 443.97) scale(1.0286 0.8513)" font-family="Liberation Serif" font-weight="bold" font-size="10" fill="#111" stroke="#111" stroke-width="0.35">Binding Energy(eV)</text><text x="0" y="0" transform="translate(11.99 363.93) scale(0.9231 0.9067) rotate(-90)" font-family="Liberation Serif" font-weight="bold" font-size="10" fill="#111" stroke="#111" stroke-width="0.35">Intensity(arb.unit)</text><text x="0" y="0" transform="translate(20.20 258.70) scale(1.0689 0.9857)" font-family="Liberation Sans" font-weight="normal" font-size="14.5" fill="#111" stroke="#111" stroke-width="0.2">(c)</text><text x="0" y="0" transform="translate(253.24 253.26) scale(1.0368 0.9571)" font-family="Liberation Serif" font-weight="bold" font-size="10" fill="#111" stroke="#111" stroke-width="0.35">O 1s</text><text x="0" y="0" transform="translate(151.44 258.56) scale(1.0217 0.9429)" font-family="Liberation Serif" font-weight="bold" font-size="10" fill="#e8262e" stroke="#e8262e" stroke-width="0.35">527.98 eV</text><text x="0" y="0" transform="translate(144.35 279.17) scale(1.0169 0.9286)" font-family="Liberation Serif" font-weight="bold" font-size="10" fill="#2f3fe6" stroke="#2f3fe6" stroke-width="0.35">527.75 eV</text><text x="0" y="0" transform="translate(150.04 304.86) scale(1.0241 0.9429)" font-family="Liberation Serif" font-weight="bold" font-size="10" fill="#f03cf0" stroke="#f03cf0" stroke-width="0.35">528.35 eV</text><text x="0" y="0" transform="translate(208.44 330.98) scale(1.0217 0.8857)" font-family="Liberation Serif" font-weight="bold" font-size="10" fill="#2f8f2a" stroke="#2f8f2a" stroke-width="0.35">529.67 eV</text><text x="0" y="0" transform="translate(323.60 431.95) scale(1.0069 0.9857)" font-family="Liberation Serif" font-weight="bold" font-size="10" fill="#111" stroke="#111" stroke-width="0.35" text-anchor="middle">200</text><text x="0" y="0" transform="translate(389.10 431.95) scale(1.0069 0.9857)" font-family="Liberation Serif" font-weight="bold" font-size="10" fill="#111" stroke="#111" stroke-width="0.35" text-anchor="middle">400</text><text x="0" y="0" transform="translate(454.90 431.95) scale(1.0069 0.9857)" font-family="Liberation Serif" font-weight="bold" font-size="10" fill="#111" stroke="#111" stroke-width="0.35" text-anchor="middle">600</text><text x="0" y="0" transform="translate(522.80 431.95) scale(1.0069 0.9857)" font-family="Liberation Serif" font-weight="bold" font-size="10" fill="#111" stroke="#111" stroke-width="0.35" text-anchor="middle">800</text><text x="0" y="0" transform="translate(591.50 431.95) scale(1.0069 0.9857)" font-family="Liberation Serif" font-weight="bold" font-size="10" fill="#111" stroke="#111" stroke-width="0.35" text-anchor="middle">1000</text><text x="0" y="0" transform="translate(420.90 448.31) scale(1.1925 1.0359)" font-family="Liberation Serif" font-weight="bold" font-size="10" fill="#111" stroke="#111" stroke-width="0.35">Raman shift (cm<tspan font-size="6.2" dy="-2.5">-1</tspan><tspan dy="2.5">)</tspan></text><text x="0" y="0" transform="translate(311.87 373.82) scale(0.8513 0.8673) rotate(-90)" font-family="Liberation Serif" font-weight="bold" font-size="10" fill="#111" stroke="#111" stroke-width="0.35">Intensity(arb.unit)</text><text x="0" y="0" transform="translate(324.22 258.82) scale(1.0400 0.9786)" font-family="Liberation Sans" font-weight="normal" font-size="14.5" fill="#111" stroke="#111" stroke-width="0.2">(d)</text><text x="0" y="0" transform="translate(384.85 315.95) scale(1.0043 1.0143)" font-family="Liberation Serif" font-weight="bold" font-size="10" fill="#111" stroke="#111" stroke-width="0.35">538 cm<tspan font-size="5.6" dy="-2.6">-1</tspan></text><text x="0" y="0" transform="translate(450.85 290.47) scale(1.0158 0.9000)" font-family="Liberation Serif" font-weight="bold" font-size="10" fill="#111" stroke="#111" stroke-width="0.35">651 cm<tspan font-size="5.6" dy="-2.6">-1</tspan></text><text x="0" y="0" transform="translate(506.35 290.46) scale(1.0187 0.9429)" font-family="Liberation Serif" font-weight="bold" font-size="10" fill="#111" stroke="#111" stroke-width="0.35">758 cm<tspan font-size="5.6" dy="-2.6">-1</tspan></text></g></svg></body></html>
